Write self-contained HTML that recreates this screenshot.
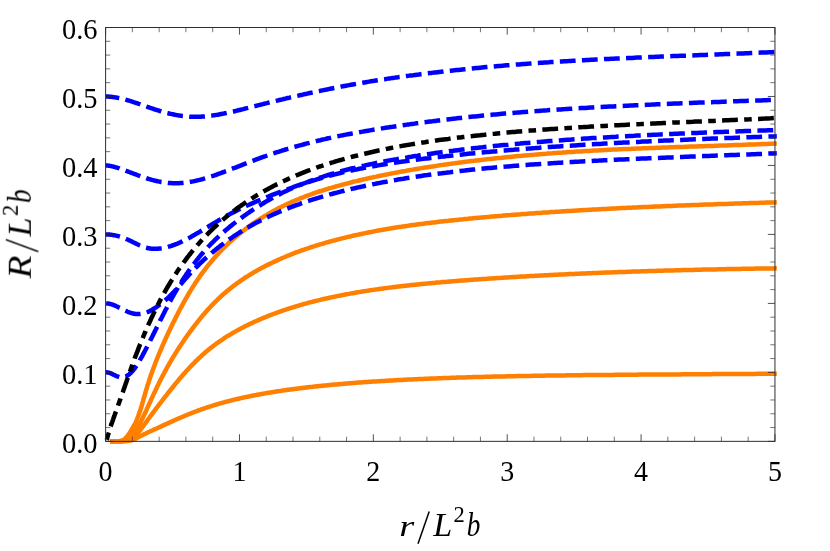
<!DOCTYPE html>
<html><head><meta charset="utf-8"><title>plot</title>
<style>html,body{margin:0;padding:0;background:#fff;}body{width:830px;height:551px;overflow:hidden;font-family:"Liberation Serif",serif;}svg{display:block;}</style></head>
<body>
<svg width="830" height="551" viewBox="0 0 830 551">
<rect x="0" y="0" width="830" height="551" fill="#ffffff"/>
<defs><clipPath id="cp"><rect x="100" y="20" width="676.8" height="430"/></clipPath></defs>
<g fill="none" stroke-width="4.5" stroke-linejoin="round" clip-path="url(#cp)">
<path d="M110.0 441.3 L110.4 441.3 L110.8 441.3 L111.2 441.3 L111.6 441.3 L112.0 441.3 L112.5 441.3 L113.0 441.3 L113.5 441.3 L114.0 441.3 L114.5 441.3 L115.0 441.3 L115.5 441.3 L116.1 441.3 L116.6 441.3 L117.2 441.3 L117.8 441.2 L118.5 441.2 L119.1 441.1 L119.8 441.1 L120.4 441.0 L121.1 440.9 L121.8 440.7 L122.5 440.4 L123.2 440.1 L123.8 439.7 L124.4 439.3 L125.0 438.7 L125.6 438.1 L126.2 437.5 L126.7 436.9 L127.3 436.2 L127.8 435.6 L128.3 434.8 L128.9 434.1 L129.4 433.3 L129.9 432.6 L130.4 431.7 L130.9 430.9 L131.3 430.0 L131.8 429.2 L132.3 428.3 L132.9 427.4 L133.4 426.5 L134.0 425.6 L134.5 424.7 L135.0 423.7 L135.6 422.7 L136.0 421.7 L136.5 420.6 L136.9 419.5 L137.4 418.4 L137.8 417.3 L138.2 416.2 L138.6 415.0 L139.0 413.8 L139.4 412.7 L139.9 411.4 L140.3 410.2 L140.7 409.0 L140.9 408.4 L141.1 407.8 L141.3 407.2 L141.4 406.6 L141.6 406.0 L141.8 405.4 L142.0 404.7 L142.2 404.1 L142.3 403.5 L142.5 402.8 L142.7 402.2 L142.9 401.6 L143.1 400.9 L143.3 400.3 L143.4 399.6 L143.6 399.0 L143.8 398.3 L144.0 397.6 L144.2 397.0 L144.4 396.3 L144.6 395.6 L144.8 395.0 L145.0 394.3 L145.2 393.6 L145.3 392.9 L145.5 392.2 L145.7 391.5 L145.9 390.8 L146.2 390.1 L146.4 389.4 L146.6 388.7 L146.8 388.0 L147.0 387.3 L147.2 386.6 L147.4 385.9 L147.6 385.2 L147.9 384.5 L148.1 383.8 L148.3 383.0 L148.6 382.3 L148.8 381.6 L149.0 380.8 L149.3 380.1 L149.5 379.4 L149.8 378.6 L150.0 377.9 L150.3 377.2 L150.5 376.4 L150.8 375.7 L151.0 374.9 L151.3 374.2 L151.6 373.4 L151.8 372.6 L152.1 371.9 L152.4 371.1 L152.6 370.3 L152.9 369.6 L153.2 368.8 L153.5 368.0 L153.8 367.3 L154.1 366.5 L154.4 365.7 L154.7 364.9 L155.0 364.1 L155.3 363.3 L155.6 362.5 L155.9 361.7 L156.2 360.9 L156.5 360.1 L156.8 359.3 L157.2 358.5 L157.5 357.7 L157.8 356.9 L158.1 356.1 L158.5 355.3 L158.8 354.5 L159.1 353.6 L159.5 352.8 L159.8 352.0 L160.2 351.2 L160.5 350.3 L160.9 349.5 L161.3 348.7 L161.6 347.8 L162.0 347.0 L162.3 346.1 L162.7 345.3 L163.1 344.4 L163.5 343.6 L163.8 342.7 L164.2 341.9 L164.6 341.0 L165.0 340.1 L165.4 339.3 L165.8 338.4 L166.2 337.5 L166.6 336.6 L167.0 335.8 L167.4 334.9 L167.8 334.0 L168.2 333.1 L168.6 332.2 L169.1 331.3 L169.5 330.4 L169.9 329.5 L170.3 328.6 L170.8 327.7 L171.2 326.8 L171.7 325.9 L172.1 325.0 L172.5 324.1 L173.0 323.1 L173.4 322.2 L173.9 321.3 L174.4 320.4 L174.8 319.4 L175.3 318.5 L175.8 317.6 L176.2 316.6 L176.7 315.7 L177.2 314.8 L177.7 313.8 L178.2 312.9 L178.6 311.9 L179.1 311.0 L179.6 310.0 L180.1 309.0 L180.6 308.1 L181.2 307.1 L181.7 306.2 L182.2 305.2 L182.7 304.2 L183.2 303.3 L183.8 302.3 L184.3 301.3 L184.9 300.4 L185.4 299.4 L186.0 298.4 L186.5 297.4 L187.1 296.5 L187.7 295.5 L188.2 294.5 L188.8 293.5 L189.4 292.6 L190.0 291.6 L190.6 290.6 L191.2 289.6 L191.8 288.6 L192.4 287.7 L193.0 286.7 L193.6 285.7 L194.3 284.7 L194.9 283.7 L195.5 282.8 L196.2 281.8 L196.9 280.8 L197.5 279.8 L198.2 278.8 L198.9 277.9 L199.5 276.9 L200.2 275.9 L200.9 274.9 L201.6 273.9 L202.3 273.0 L203.0 272.0 L203.8 271.0 L204.5 270.1 L205.2 269.1 L206.0 268.1 L206.7 267.1 L207.5 266.2 L208.3 265.2 L209.0 264.3 L209.8 263.3 L210.6 262.3 L211.4 261.4 L212.2 260.4 L213.0 259.5 L213.8 258.5 L214.7 257.6 L215.5 256.6 L216.4 255.7 L217.2 254.7 L218.1 253.8 L219.0 252.9 L219.8 251.9 L220.7 251.0 L221.6 250.1 L222.5 249.1 L223.4 248.2 L224.4 247.3 L225.3 246.4 L226.2 245.5 L227.2 244.6 L228.2 243.6 L229.1 242.7 L230.1 241.8 L231.1 240.9 L232.1 240.1 L233.1 239.2 L234.1 238.3 L235.1 237.4 L236.2 236.5 L237.2 235.7 L238.2 234.8 L239.3 233.9 L240.4 233.1 L241.4 232.2 L242.5 231.4 L243.6 230.5 L244.7 229.7 L245.8 228.8 L246.9 228.0 L248.0 227.2 L249.2 226.3 L250.3 225.5 L251.4 224.7 L252.6 223.9 L253.7 223.1 L254.9 222.3 L256.1 221.5 L257.3 220.7 L258.5 220.0 L259.7 219.2 L260.9 218.4 L262.1 217.6 L263.3 216.9 L264.5 216.1 L265.8 215.4 L267.0 214.7 L268.3 213.9 L269.5 213.2 L270.8 212.5 L272.1 211.8 L273.3 211.1 L274.6 210.4 L275.9 209.7 L277.2 209.0 L278.5 208.3 L279.8 207.6 L281.1 207.0 L282.5 206.3 L283.8 205.7 L285.1 205.0 L286.5 204.4 L287.8 203.7 L289.2 203.1 L290.6 202.5 L291.9 201.9 L293.3 201.3 L294.7 200.7 L296.1 200.1 L297.5 199.5 L298.9 199.0 L300.3 198.4 L301.7 197.8 L303.2 197.3 L304.6 196.7 L306.0 196.2 L307.5 195.6 L308.9 195.1 L310.4 194.6 L311.8 194.1 L313.3 193.5 L314.8 193.0 L316.2 192.5 L317.7 192.0 L319.2 191.5 L320.7 191.0 L322.2 190.6 L323.7 190.1 L325.2 189.6 L326.8 189.1 L328.3 188.7 L329.8 188.2 L331.3 187.8 L332.9 187.3 L334.4 186.9 L336.0 186.4 L337.5 186.0 L339.1 185.6 L340.7 185.1 L342.3 184.7 L343.8 184.3 L345.4 183.9 L347.0 183.5 L348.6 183.1 L350.2 182.6 L351.8 182.2 L353.4 181.8 L355.0 181.4 L356.7 181.1 L358.3 180.7 L359.9 180.3 L361.6 179.9 L363.2 179.5 L364.8 179.1 L366.5 178.8 L368.1 178.4 L369.8 178.0 L371.5 177.6 L373.1 177.3 L374.8 176.9 L376.5 176.6 L378.2 176.2 L379.9 175.8 L381.6 175.5 L383.3 175.1 L385.0 174.8 L386.7 174.5 L388.4 174.1 L390.1 173.8 L391.8 173.4 L393.6 173.1 L395.3 172.8 L397.0 172.5 L398.8 172.1 L400.5 171.8 L402.2 171.5 L404.0 171.2 L405.8 170.9 L407.5 170.5 L409.3 170.2 L411.0 169.9 L412.8 169.6 L414.6 169.3 L416.4 169.0 L418.2 168.7 L419.9 168.4 L421.7 168.1 L423.5 167.8 L425.3 167.6 L427.1 167.3 L428.9 167.0 L430.7 166.7 L432.6 166.4 L434.4 166.2 L436.2 165.9 L438.0 165.6 L439.9 165.3 L441.7 165.1 L443.5 164.8 L445.4 164.5 L447.2 164.3 L449.0 164.0 L450.9 163.8 L452.7 163.5 L454.6 163.3 L456.5 163.0 L458.3 162.8 L460.2 162.5 L462.1 162.3 L463.9 162.0 L465.8 161.8 L467.7 161.6 L469.6 161.3 L471.5 161.1 L473.4 160.9 L475.3 160.6 L477.2 160.4 L479.1 160.2 L481.0 160.0 L482.9 159.7 L484.8 159.5 L486.7 159.3 L488.6 159.1 L490.5 158.9 L492.5 158.7 L494.4 158.5 L496.3 158.3 L498.3 158.1 L500.2 157.9 L502.2 157.7 L504.1 157.5 L506.1 157.3 L508.0 157.1 L510.0 156.9 L511.9 156.7 L513.9 156.5 L515.9 156.3 L517.9 156.1 L519.8 155.9 L521.8 155.8 L523.8 155.6 L525.8 155.4 L527.8 155.2 L529.8 155.1 L531.8 154.9 L533.8 154.7 L535.8 154.6 L537.8 154.4 L539.8 154.2 L541.8 154.1 L543.9 153.9 L545.9 153.8 L547.9 153.6 L549.9 153.4 L552.0 153.3 L554.0 153.1 L556.1 153.0 L558.1 152.8 L560.2 152.7 L562.2 152.6 L564.3 152.4 L566.3 152.3 L568.4 152.1 L570.5 152.0 L572.5 151.9 L574.6 151.7 L576.7 151.6 L578.8 151.5 L580.9 151.4 L583.0 151.2 L585.1 151.1 L587.2 151.0 L589.3 150.9 L591.4 150.7 L593.5 150.6 L595.6 150.5 L597.7 150.4 L599.8 150.3 L602.0 150.2 L604.1 150.1 L606.2 150.0 L608.3 149.8 L610.5 149.7 L612.6 149.6 L614.8 149.5 L616.9 149.4 L619.1 149.3 L621.2 149.2 L623.4 149.1 L625.6 149.1 L627.7 149.0 L629.9 148.9 L632.1 148.8 L634.3 148.7 L636.5 148.6 L638.7 148.5 L640.8 148.4 L643.0 148.3 L645.2 148.2 L647.4 148.2 L649.7 148.1 L651.9 148.0 L654.1 147.9 L656.3 147.8 L658.5 147.7 L660.7 147.7 L663.0 147.6 L665.2 147.5 L667.5 147.4 L669.7 147.3 L671.9 147.3 L674.2 147.2 L676.4 147.1 L678.7 147.0 L681.0 146.9 L683.2 146.9 L685.5 146.8 L687.8 146.7 L690.0 146.6 L692.3 146.6 L694.6 146.5 L696.9 146.4 L699.2 146.3 L701.5 146.3 L703.8 146.2 L706.1 146.1 L708.4 146.0 L710.7 145.9 L713.0 145.9 L715.3 145.8 L717.7 145.7 L720.0 145.6 L722.3 145.5 L724.7 145.5 L727.0 145.4 L729.3 145.3 L731.7 145.2 L734.0 145.1 L736.4 145.1 L738.7 145.0 L741.1 144.9 L743.5 144.8 L745.8 144.7 L748.2 144.6 L750.6 144.5 L753.0 144.5 L755.4 144.4 L757.7 144.3 L760.1 144.2 L762.5 144.1 L764.9 144.0 L767.3 143.9 L769.8 143.8 L772.2 143.7 L774.6 143.6 L777.0 143.5" stroke="#ff7f00"/>
<path d="M110.0 441.3 L110.5 441.3 L110.9 441.3 L111.4 441.3 L112.0 441.3 L112.5 441.3 L113.1 441.3 L113.7 441.3 L114.3 441.3 L115.0 441.3 L115.6 441.3 L116.3 441.3 L117.0 441.3 L117.7 441.3 L118.4 441.3 L119.1 441.3 L119.9 441.2 L120.8 441.1 L121.6 441.0 L122.5 440.9 L123.4 440.7 L124.2 440.5 L125.1 440.2 L126.1 439.8 L126.9 439.4 L127.8 439.0 L128.7 438.4 L129.6 437.8 L130.4 437.1 L131.2 436.3 L132.0 435.5 L132.7 434.6 L133.5 433.7 L134.2 432.7 L134.9 431.7 L135.6 430.7 L136.3 429.6 L137.0 428.5 L137.6 427.3 L138.3 426.2 L139.0 425.0 L139.7 423.8 L140.3 422.6 L141.0 421.3 L141.7 420.0 L142.3 418.7 L143.0 417.3 L143.6 415.9 L144.3 414.5 L145.0 413.1 L145.7 411.7 L146.4 410.2 L147.0 408.7 L147.7 407.2 L148.4 405.6 L149.1 404.1 L149.9 402.5 L150.6 400.9 L151.3 399.2 L152.1 397.6 L152.4 397.0 L152.6 396.4 L152.9 395.8 L153.2 395.2 L153.5 394.6 L153.8 394.0 L154.0 393.4 L154.3 392.8 L154.6 392.2 L154.9 391.6 L155.2 391.0 L155.5 390.3 L155.8 389.7 L156.1 389.1 L156.4 388.5 L156.7 387.8 L157.0 387.2 L157.3 386.6 L157.6 385.9 L157.9 385.3 L158.2 384.7 L158.5 384.0 L158.8 383.4 L159.1 382.7 L159.5 382.1 L159.8 381.4 L160.1 380.8 L160.4 380.1 L160.8 379.5 L161.1 378.8 L161.4 378.2 L161.8 377.5 L162.1 376.8 L162.5 376.2 L162.8 375.5 L163.2 374.8 L163.5 374.2 L163.9 373.5 L164.2 372.8 L164.6 372.1 L165.0 371.5 L165.3 370.8 L165.7 370.1 L166.1 369.4 L166.5 368.7 L166.8 368.0 L167.2 367.3 L167.6 366.6 L168.0 366.0 L168.4 365.3 L168.8 364.6 L169.2 363.9 L169.6 363.2 L170.0 362.5 L170.4 361.8 L170.8 361.0 L171.2 360.3 L171.6 359.6 L172.1 358.9 L172.5 358.2 L172.9 357.5 L173.3 356.8 L173.8 356.1 L174.2 355.4 L174.7 354.6 L175.1 353.9 L175.5 353.2 L176.0 352.5 L176.5 351.7 L176.9 351.0 L177.4 350.3 L177.8 349.6 L178.3 348.8 L178.8 348.1 L179.3 347.4 L179.7 346.6 L180.2 345.9 L180.7 345.2 L181.2 344.4 L181.7 343.7 L182.2 343.0 L182.7 342.2 L183.2 341.5 L183.7 340.7 L184.2 340.0 L184.7 339.2 L185.2 338.5 L185.8 337.7 L186.3 337.0 L186.8 336.2 L187.3 335.5 L187.9 334.7 L188.4 334.0 L189.0 333.2 L189.5 332.5 L190.1 331.7 L190.6 331.0 L191.2 330.2 L191.8 329.5 L192.3 328.7 L192.9 327.9 L193.5 327.2 L194.0 326.4 L194.6 325.7 L195.2 324.9 L195.8 324.1 L196.4 323.4 L197.0 322.6 L197.6 321.8 L198.2 321.1 L198.8 320.3 L199.5 319.5 L200.1 318.8 L200.7 318.0 L201.3 317.2 L202.0 316.5 L202.6 315.7 L203.2 314.9 L203.9 314.2 L204.6 313.4 L205.2 312.6 L205.9 311.9 L206.5 311.1 L207.2 310.4 L207.9 309.6 L208.6 308.8 L209.3 308.1 L210.0 307.3 L210.7 306.6 L211.4 305.8 L212.1 305.1 L212.8 304.3 L213.5 303.6 L214.3 302.8 L215.0 302.1 L215.8 301.4 L216.5 300.6 L217.3 299.9 L218.0 299.2 L218.8 298.4 L219.6 297.7 L220.3 297.0 L221.1 296.3 L221.9 295.5 L222.7 294.8 L223.5 294.1 L224.3 293.4 L225.2 292.7 L226.0 292.0 L226.8 291.3 L227.7 290.6 L228.5 289.9 L229.4 289.2 L230.2 288.5 L231.1 287.8 L232.0 287.2 L232.8 286.5 L233.7 285.8 L234.6 285.1 L235.5 284.5 L236.4 283.8 L237.3 283.1 L238.2 282.5 L239.2 281.8 L240.1 281.2 L241.0 280.5 L242.0 279.9 L242.9 279.2 L243.9 278.6 L244.8 277.9 L245.8 277.3 L246.8 276.7 L247.8 276.1 L248.8 275.4 L249.8 274.8 L250.8 274.2 L251.8 273.6 L252.8 273.0 L253.8 272.4 L254.8 271.8 L255.9 271.2 L256.9 270.6 L258.0 270.0 L259.0 269.4 L260.1 268.9 L261.1 268.3 L262.2 267.7 L263.3 267.1 L264.4 266.6 L265.4 266.0 L266.5 265.4 L267.6 264.9 L268.7 264.3 L269.9 263.8 L271.0 263.2 L272.1 262.7 L273.2 262.2 L274.3 261.6 L275.5 261.1 L276.6 260.6 L277.8 260.1 L278.9 259.5 L280.1 259.0 L281.2 258.5 L282.4 258.0 L283.6 257.5 L284.8 257.0 L285.9 256.5 L287.1 256.0 L288.3 255.5 L289.5 255.1 L290.7 254.6 L291.9 254.1 L293.1 253.6 L294.3 253.2 L295.5 252.7 L296.8 252.2 L298.0 251.8 L299.2 251.3 L300.4 250.9 L301.7 250.4 L302.9 250.0 L304.2 249.6 L305.4 249.1 L306.7 248.7 L307.9 248.3 L309.2 247.9 L310.4 247.4 L311.7 247.0 L313.0 246.6 L314.3 246.2 L315.5 245.8 L316.8 245.4 L318.1 245.0 L319.4 244.6 L320.7 244.2 L322.0 243.9 L323.3 243.5 L324.6 243.1 L325.9 242.7 L327.2 242.3 L328.5 242.0 L329.8 241.6 L331.2 241.2 L332.5 240.9 L333.8 240.5 L335.2 240.2 L336.5 239.8 L337.8 239.5 L339.2 239.1 L340.5 238.8 L341.9 238.4 L343.2 238.1 L344.6 237.8 L346.0 237.4 L347.3 237.1 L348.7 236.8 L350.1 236.5 L351.5 236.1 L352.8 235.8 L354.2 235.5 L355.6 235.2 L357.0 234.9 L358.4 234.6 L359.8 234.3 L361.2 234.0 L362.6 233.7 L364.0 233.4 L365.4 233.1 L366.8 232.8 L368.3 232.5 L369.7 232.2 L371.1 231.9 L372.6 231.7 L374.0 231.4 L375.4 231.1 L376.9 230.8 L378.3 230.6 L379.8 230.3 L381.2 230.0 L382.7 229.8 L384.1 229.5 L385.6 229.3 L387.1 229.0 L388.5 228.8 L390.0 228.5 L391.5 228.3 L393.0 228.0 L394.5 227.8 L395.9 227.6 L397.4 227.3 L398.9 227.1 L400.4 226.9 L401.9 226.6 L403.4 226.4 L404.9 226.2 L406.5 226.0 L408.0 225.8 L409.5 225.5 L411.0 225.3 L412.5 225.1 L414.1 224.9 L415.6 224.7 L417.1 224.5 L418.7 224.3 L420.2 224.1 L421.8 223.9 L423.3 223.7 L424.9 223.5 L426.4 223.3 L428.0 223.1 L429.6 222.9 L431.1 222.7 L432.7 222.5 L434.3 222.4 L435.9 222.2 L437.4 222.0 L439.0 221.8 L440.6 221.6 L442.2 221.5 L443.8 221.3 L445.4 221.1 L447.0 220.9 L448.6 220.8 L450.2 220.6 L451.8 220.4 L453.4 220.2 L455.1 220.1 L456.7 219.9 L458.3 219.7 L459.9 219.6 L461.6 219.4 L463.2 219.3 L464.8 219.1 L466.5 218.9 L468.1 218.8 L469.8 218.6 L471.4 218.5 L473.1 218.3 L474.7 218.1 L476.4 218.0 L478.1 217.8 L479.7 217.7 L481.4 217.5 L483.1 217.4 L484.7 217.2 L486.4 217.1 L488.1 216.9 L489.8 216.8 L491.5 216.6 L493.2 216.5 L494.9 216.3 L496.6 216.2 L498.3 216.1 L500.0 215.9 L501.7 215.8 L503.4 215.6 L505.1 215.5 L506.8 215.3 L508.6 215.2 L510.3 215.1 L512.0 214.9 L513.7 214.8 L515.5 214.7 L517.2 214.5 L519.0 214.4 L520.7 214.3 L522.5 214.1 L524.2 214.0 L526.0 213.9 L527.7 213.7 L529.5 213.6 L531.2 213.5 L533.0 213.4 L534.8 213.2 L536.5 213.1 L538.3 213.0 L540.1 212.9 L541.9 212.7 L543.7 212.6 L545.5 212.5 L547.2 212.4 L549.0 212.3 L550.8 212.1 L552.6 212.0 L554.4 211.9 L556.3 211.8 L558.1 211.7 L559.9 211.6 L561.7 211.4 L563.5 211.3 L565.3 211.2 L567.2 211.1 L569.0 211.0 L570.8 210.9 L572.6 210.8 L574.5 210.7 L576.3 210.5 L578.2 210.4 L580.0 210.3 L581.9 210.2 L583.7 210.1 L585.6 210.0 L587.4 209.9 L589.3 209.8 L591.2 209.7 L593.0 209.6 L594.9 209.5 L596.8 209.4 L598.6 209.3 L600.5 209.2 L602.4 209.1 L604.3 209.0 L606.2 208.9 L608.1 208.8 L610.0 208.7 L611.9 208.6 L613.8 208.5 L615.7 208.4 L617.6 208.3 L619.5 208.2 L621.4 208.1 L623.3 208.0 L625.2 207.9 L627.1 207.8 L629.1 207.7 L631.0 207.7 L632.9 207.6 L634.9 207.5 L636.8 207.4 L638.7 207.3 L640.7 207.2 L642.6 207.1 L644.6 207.0 L646.5 206.9 L648.5 206.9 L650.4 206.8 L652.4 206.7 L654.3 206.6 L656.3 206.5 L658.3 206.4 L660.2 206.4 L662.2 206.3 L664.2 206.2 L666.2 206.1 L668.1 206.0 L670.1 205.9 L672.1 205.9 L674.1 205.8 L676.1 205.7 L678.1 205.6 L680.1 205.5 L682.1 205.5 L684.1 205.4 L686.1 205.3 L688.1 205.2 L690.1 205.2 L692.1 205.1 L694.1 205.0 L696.1 204.9 L698.2 204.9 L700.2 204.8 L702.2 204.7 L704.3 204.6 L706.3 204.6 L708.3 204.5 L710.4 204.4 L712.4 204.4 L714.4 204.3 L716.5 204.2 L718.5 204.1 L720.6 204.1 L722.6 204.0 L724.7 203.9 L726.8 203.9 L728.8 203.8 L730.9 203.7 L733.0 203.7 L735.0 203.6 L737.1 203.5 L739.2 203.5 L741.3 203.4 L743.3 203.3 L745.4 203.3 L747.5 203.2 L749.6 203.1 L751.7 203.1 L753.8 203.0 L755.9 202.9 L758.0 202.9 L760.1 202.8 L762.2 202.7 L764.3 202.7 L766.4 202.6 L768.5 202.5 L770.6 202.5 L772.8 202.4 L774.9 202.4 L777.0 202.3" stroke="#ff7f00"/>
<path d="M110.0 441.3 L110.5 441.3 L111.0 441.3 L111.5 441.3 L112.1 441.3 L112.7 441.3 L113.3 441.3 L114.0 441.3 L114.7 441.3 L115.4 441.3 L116.1 441.3 L116.8 441.3 L117.6 441.3 L118.3 441.3 L119.1 441.3 L119.9 441.3 L120.7 441.3 L121.6 441.3 L122.5 441.2 L123.5 441.1 L124.5 441.1 L125.5 441.0 L126.5 440.8 L127.6 440.6 L128.6 440.3 L129.7 439.9 L130.7 439.5 L131.7 438.9 L132.7 438.2 L133.7 437.5 L134.6 436.7 L135.5 435.8 L136.4 434.8 L137.3 433.8 L138.2 432.8 L139.0 431.7 L139.9 430.6 L140.7 429.4 L141.6 428.3 L142.4 427.1 L143.3 425.9 L144.2 424.6 L145.2 423.4 L146.1 422.1 L147.1 420.8 L148.0 419.5 L149.0 418.2 L150.0 416.8 L151.0 415.4 L152.1 414.0 L153.1 412.6 L154.2 411.1 L155.3 409.7 L156.4 408.2 L157.6 406.7 L158.7 405.2 L159.9 403.6 L161.1 402.1 L162.3 400.5 L163.5 398.9 L163.9 398.4 L164.3 397.9 L164.7 397.4 L165.1 396.9 L165.5 396.3 L165.9 395.8 L166.3 395.3 L166.7 394.8 L167.1 394.3 L167.5 393.7 L167.9 393.2 L168.3 392.7 L168.8 392.2 L169.2 391.6 L169.6 391.1 L170.0 390.6 L170.5 390.0 L170.9 389.5 L171.3 388.9 L171.8 388.4 L172.2 387.8 L172.6 387.3 L173.1 386.8 L173.5 386.2 L174.0 385.7 L174.4 385.1 L174.9 384.5 L175.3 384.0 L175.8 383.4 L176.2 382.9 L176.7 382.3 L177.2 381.8 L177.6 381.2 L178.1 380.6 L178.6 380.1 L179.0 379.5 L179.5 378.9 L180.0 378.4 L180.5 377.8 L181.0 377.2 L181.5 376.7 L181.9 376.1 L182.4 375.5 L182.9 374.9 L183.4 374.4 L183.9 373.8 L184.4 373.2 L185.0 372.7 L185.5 372.1 L186.0 371.5 L186.5 370.9 L187.0 370.4 L187.6 369.8 L188.1 369.2 L188.6 368.6 L189.2 368.0 L189.7 367.5 L190.2 366.9 L190.8 366.3 L191.3 365.7 L191.9 365.2 L192.5 364.6 L193.0 364.0 L193.6 363.4 L194.2 362.9 L194.7 362.3 L195.3 361.7 L195.9 361.1 L196.5 360.6 L197.1 360.0 L197.7 359.4 L198.2 358.9 L198.9 358.3 L199.5 357.7 L200.1 357.2 L200.7 356.6 L201.3 356.0 L201.9 355.5 L202.5 354.9 L203.2 354.3 L203.8 353.8 L204.5 353.2 L205.1 352.6 L205.7 352.1 L206.4 351.5 L207.1 351.0 L207.7 350.4 L208.4 349.9 L209.1 349.3 L209.7 348.8 L210.4 348.2 L211.1 347.7 L211.8 347.1 L212.5 346.6 L213.2 346.1 L213.9 345.5 L214.6 345.0 L215.3 344.5 L216.0 343.9 L216.7 343.4 L217.5 342.9 L218.2 342.4 L219.0 341.8 L219.7 341.3 L220.4 340.8 L221.2 340.3 L222.0 339.8 L222.7 339.3 L223.5 338.8 L224.3 338.2 L225.0 337.7 L225.8 337.2 L226.6 336.7 L227.4 336.2 L228.2 335.7 L229.0 335.3 L229.8 334.8 L230.6 334.3 L231.4 333.8 L232.3 333.3 L233.1 332.8 L233.9 332.3 L234.7 331.9 L235.6 331.4 L236.4 330.9 L237.3 330.4 L238.1 330.0 L239.0 329.5 L239.8 329.1 L240.7 328.6 L241.6 328.1 L242.4 327.7 L243.3 327.2 L244.2 326.8 L245.1 326.3 L246.0 325.9 L246.9 325.4 L247.8 325.0 L248.7 324.5 L249.6 324.1 L250.5 323.7 L251.4 323.2 L252.4 322.8 L253.3 322.4 L254.2 321.9 L255.1 321.5 L256.1 321.1 L257.0 320.7 L258.0 320.3 L258.9 319.8 L259.9 319.4 L260.8 319.0 L261.8 318.6 L262.8 318.2 L263.7 317.8 L264.7 317.4 L265.7 317.0 L266.7 316.6 L267.6 316.2 L268.6 315.8 L269.6 315.4 L270.6 315.0 L271.6 314.7 L272.6 314.3 L273.6 313.9 L274.7 313.5 L275.7 313.1 L276.7 312.8 L277.7 312.4 L278.7 312.0 L279.8 311.7 L280.8 311.3 L281.8 310.9 L282.9 310.6 L283.9 310.2 L285.0 309.9 L286.0 309.5 L287.1 309.2 L288.1 308.8 L289.2 308.5 L290.3 308.1 L291.3 307.8 L292.4 307.5 L293.5 307.1 L294.6 306.8 L295.7 306.5 L296.7 306.1 L297.8 305.8 L298.9 305.5 L300.0 305.2 L301.1 304.8 L302.2 304.5 L303.3 304.2 L304.4 303.9 L305.6 303.6 L306.7 303.3 L307.8 303.0 L308.9 302.7 L310.0 302.4 L311.2 302.1 L312.3 301.8 L313.4 301.5 L314.6 301.2 L315.7 300.9 L316.9 300.7 L318.0 300.4 L319.2 300.1 L320.3 299.8 L321.5 299.5 L322.6 299.3 L323.8 299.0 L325.0 298.7 L326.1 298.5 L327.3 298.2 L328.5 298.0 L329.7 297.7 L330.8 297.4 L332.0 297.2 L333.2 296.9 L334.4 296.7 L335.6 296.4 L336.8 296.2 L338.0 295.9 L339.2 295.7 L340.4 295.5 L341.6 295.2 L342.8 295.0 L344.0 294.8 L345.3 294.5 L346.5 294.3 L347.7 294.1 L348.9 293.9 L350.2 293.6 L351.4 293.4 L352.6 293.2 L353.9 293.0 L355.1 292.8 L356.4 292.5 L357.6 292.3 L358.8 292.1 L360.1 291.9 L361.4 291.7 L362.6 291.5 L363.9 291.3 L365.2 291.1 L366.4 290.9 L367.7 290.7 L369.0 290.5 L370.2 290.3 L371.5 290.1 L372.8 289.9 L374.1 289.7 L375.4 289.6 L376.7 289.4 L378.0 289.2 L379.3 289.0 L380.6 288.8 L381.9 288.7 L383.2 288.5 L384.5 288.3 L385.8 288.1 L387.1 288.0 L388.5 287.8 L389.8 287.6 L391.1 287.4 L392.4 287.3 L393.8 287.1 L395.1 287.0 L396.4 286.8 L397.8 286.6 L399.1 286.5 L400.5 286.3 L401.8 286.2 L403.2 286.0 L404.5 285.8 L405.9 285.7 L407.2 285.5 L408.6 285.4 L410.0 285.2 L411.3 285.1 L412.7 285.0 L414.1 284.8 L415.5 284.7 L416.8 284.5 L418.2 284.4 L419.6 284.2 L421.0 284.1 L422.4 284.0 L423.8 283.8 L425.2 283.7 L426.6 283.6 L428.0 283.4 L429.4 283.3 L430.8 283.2 L432.2 283.0 L433.6 282.9 L435.1 282.8 L436.5 282.6 L437.9 282.5 L439.3 282.4 L440.8 282.3 L442.2 282.1 L443.6 282.0 L445.1 281.9 L446.5 281.8 L448.0 281.7 L449.4 281.5 L450.9 281.4 L452.3 281.3 L453.8 281.2 L455.2 281.1 L456.7 280.9 L458.2 280.8 L459.6 280.7 L461.1 280.6 L462.6 280.5 L464.0 280.4 L465.5 280.3 L467.0 280.2 L468.5 280.1 L470.0 279.9 L471.5 279.8 L473.0 279.7 L474.4 279.6 L475.9 279.5 L477.4 279.4 L479.0 279.3 L480.5 279.2 L482.0 279.1 L483.5 279.0 L485.0 278.9 L486.5 278.8 L488.0 278.7 L489.6 278.6 L491.1 278.5 L492.6 278.4 L494.1 278.3 L495.7 278.2 L497.2 278.1 L498.8 278.0 L500.3 277.9 L501.8 277.8 L503.4 277.7 L504.9 277.6 L506.5 277.5 L508.0 277.4 L509.6 277.3 L511.2 277.2 L512.7 277.1 L514.3 277.0 L515.9 276.9 L517.4 276.8 L519.0 276.7 L520.6 276.6 L522.2 276.6 L523.8 276.5 L525.3 276.4 L526.9 276.3 L528.5 276.2 L530.1 276.1 L531.7 276.0 L533.3 275.9 L534.9 275.8 L536.5 275.8 L538.1 275.7 L539.7 275.6 L541.4 275.5 L543.0 275.4 L544.6 275.3 L546.2 275.2 L547.8 275.2 L549.5 275.1 L551.1 275.0 L552.7 274.9 L554.4 274.8 L556.0 274.8 L557.6 274.7 L559.3 274.6 L560.9 274.5 L562.6 274.4 L564.2 274.4 L565.9 274.3 L567.5 274.2 L569.2 274.1 L570.9 274.1 L572.5 274.0 L574.2 273.9 L575.9 273.8 L577.5 273.8 L579.2 273.7 L580.9 273.6 L582.6 273.5 L584.2 273.5 L585.9 273.4 L587.6 273.3 L589.3 273.2 L591.0 273.2 L592.7 273.1 L594.4 273.0 L596.1 273.0 L597.8 272.9 L599.5 272.8 L601.2 272.8 L602.9 272.7 L604.6 272.6 L606.4 272.6 L608.1 272.5 L609.8 272.4 L611.5 272.4 L613.3 272.3 L615.0 272.2 L616.7 272.2 L618.4 272.1 L620.2 272.0 L621.9 272.0 L623.7 271.9 L625.4 271.9 L627.2 271.8 L628.9 271.7 L630.7 271.7 L632.4 271.6 L634.2 271.6 L635.9 271.5 L637.7 271.4 L639.5 271.4 L641.2 271.3 L643.0 271.3 L644.8 271.2 L646.5 271.2 L648.3 271.1 L650.1 271.1 L651.9 271.0 L653.7 270.9 L655.5 270.9 L657.3 270.8 L659.0 270.8 L660.8 270.7 L662.6 270.7 L664.4 270.6 L666.2 270.6 L668.1 270.5 L669.9 270.5 L671.7 270.4 L673.5 270.4 L675.3 270.3 L677.1 270.3 L678.9 270.2 L680.8 270.2 L682.6 270.1 L684.4 270.1 L686.2 270.0 L688.1 270.0 L689.9 270.0 L691.8 269.9 L693.6 269.9 L695.4 269.8 L697.3 269.8 L699.1 269.7 L701.0 269.7 L702.8 269.6 L704.7 269.6 L706.6 269.6 L708.4 269.5 L710.3 269.5 L712.1 269.4 L714.0 269.4 L715.9 269.4 L717.8 269.3 L719.6 269.3 L721.5 269.2 L723.4 269.2 L725.3 269.2 L727.1 269.1 L729.0 269.1 L730.9 269.1 L732.8 269.0 L734.7 269.0 L736.6 269.0 L738.5 268.9 L740.4 268.9 L742.3 268.8 L744.2 268.8 L746.1 268.8 L748.0 268.7 L750.0 268.7 L751.9 268.7 L753.8 268.7 L755.7 268.6 L757.6 268.6 L759.6 268.6 L761.5 268.5 L763.4 268.5 L765.4 268.5 L767.3 268.4 L769.2 268.4 L771.2 268.4 L773.1 268.4 L775.1 268.3 L777.0 268.3" stroke="#ff7f00"/>
<path d="M110.0 441.3 L110.5 441.3 L111.0 441.3 L111.5 441.3 L112.1 441.3 L112.6 441.3 L113.3 441.3 L113.9 441.3 L114.5 441.3 L115.2 441.3 L115.9 441.3 L116.6 441.3 L117.4 441.3 L118.1 441.3 L118.9 441.3 L119.7 441.3 L120.4 441.3 L121.3 441.3 L122.2 441.3 L123.1 441.2 L124.1 441.2 L125.1 441.1 L126.1 441.1 L127.1 441.0 L128.1 440.9 L129.2 440.7 L130.3 440.5 L131.4 440.3 L132.5 440.0 L133.6 439.6 L134.7 439.1 L135.8 438.6 L136.9 438.0 L138.0 437.4 L139.2 436.8 L140.4 436.1 L141.6 435.5 L142.8 434.9 L144.1 434.3 L145.4 433.7 L146.7 433.0 L148.0 432.4 L149.4 431.8 L150.8 431.1 L152.2 430.5 L153.6 429.8 L155.1 429.1 L156.6 428.5 L158.1 427.8 L159.6 427.1 L161.2 426.4 L162.7 425.6 L164.3 424.9 L166.0 424.2 L167.6 423.4 L169.3 422.6 L171.0 421.9 L172.7 421.1 L174.4 420.3 L176.2 419.5 L176.8 419.3 L177.3 419.0 L177.9 418.8 L178.5 418.5 L179.0 418.3 L179.6 418.0 L180.2 417.8 L180.7 417.6 L181.3 417.3 L181.9 417.1 L182.5 416.8 L183.1 416.6 L183.6 416.3 L184.2 416.1 L184.8 415.8 L185.4 415.6 L186.0 415.3 L186.6 415.1 L187.2 414.9 L187.8 414.6 L188.4 414.4 L189.0 414.1 L189.6 413.9 L190.3 413.6 L190.9 413.4 L191.5 413.1 L192.1 412.9 L192.7 412.6 L193.4 412.4 L194.0 412.2 L194.6 411.9 L195.3 411.7 L195.9 411.4 L196.6 411.2 L197.2 411.0 L197.8 410.7 L198.5 410.5 L199.1 410.2 L199.8 410.0 L200.5 409.8 L201.1 409.5 L201.8 409.3 L202.4 409.0 L203.1 408.8 L203.8 408.6 L204.5 408.3 L205.1 408.1 L205.8 407.9 L206.5 407.6 L207.2 407.4 L207.9 407.2 L208.6 407.0 L209.3 406.7 L210.0 406.5 L210.7 406.3 L211.4 406.1 L212.1 405.8 L212.8 405.6 L213.5 405.4 L214.2 405.2 L214.9 404.9 L215.6 404.7 L216.4 404.5 L217.1 404.3 L217.8 404.1 L218.5 403.9 L219.3 403.6 L220.0 403.4 L220.7 403.2 L221.5 403.0 L222.2 402.8 L223.0 402.6 L223.7 402.4 L224.5 402.2 L225.2 402.0 L226.0 401.8 L226.8 401.6 L227.5 401.4 L228.3 401.2 L229.1 401.0 L229.8 400.8 L230.6 400.6 L231.4 400.4 L232.2 400.2 L233.0 400.0 L233.8 399.8 L234.5 399.6 L235.3 399.4 L236.1 399.2 L236.9 399.1 L237.7 398.9 L238.5 398.7 L239.3 398.5 L240.2 398.3 L241.0 398.1 L241.8 397.9 L242.6 397.8 L243.4 397.6 L244.2 397.4 L245.1 397.2 L245.9 397.1 L246.7 396.9 L247.6 396.7 L248.4 396.5 L249.2 396.4 L250.1 396.2 L250.9 396.0 L251.8 395.8 L252.6 395.7 L253.5 395.5 L254.3 395.3 L255.2 395.2 L256.1 395.0 L256.9 394.8 L257.8 394.7 L258.7 394.5 L259.5 394.4 L260.4 394.2 L261.3 394.0 L262.2 393.9 L263.1 393.7 L263.9 393.6 L264.8 393.4 L265.7 393.3 L266.6 393.1 L267.5 393.0 L268.4 392.8 L269.3 392.7 L270.2 392.5 L271.1 392.4 L272.1 392.2 L273.0 392.1 L273.9 391.9 L274.8 391.8 L275.7 391.6 L276.6 391.5 L277.6 391.3 L278.5 391.2 L279.4 391.1 L280.4 390.9 L281.3 390.8 L282.2 390.6 L283.2 390.5 L284.1 390.4 L285.1 390.2 L286.0 390.1 L287.0 390.0 L287.9 389.8 L288.9 389.7 L289.9 389.6 L290.8 389.4 L291.8 389.3 L292.8 389.2 L293.7 389.0 L294.7 388.9 L295.7 388.8 L296.7 388.7 L297.6 388.5 L298.6 388.4 L299.6 388.3 L300.6 388.2 L301.6 388.0 L302.6 387.9 L303.6 387.8 L304.6 387.7 L305.6 387.6 L306.6 387.5 L307.6 387.3 L308.6 387.2 L309.6 387.1 L310.7 387.0 L311.7 386.9 L312.7 386.8 L313.7 386.6 L314.7 386.5 L315.8 386.4 L316.8 386.3 L317.8 386.2 L318.9 386.1 L319.9 386.0 L320.9 385.9 L322.0 385.8 L323.0 385.7 L324.1 385.6 L325.1 385.5 L326.2 385.4 L327.2 385.3 L328.3 385.2 L329.4 385.0 L330.4 384.9 L331.5 384.8 L332.6 384.7 L333.6 384.6 L334.7 384.6 L335.8 384.5 L336.9 384.4 L338.0 384.3 L339.0 384.2 L340.1 384.1 L341.2 384.0 L342.3 383.9 L343.4 383.8 L344.5 383.7 L345.6 383.6 L346.7 383.5 L347.8 383.4 L348.9 383.3 L350.0 383.2 L351.1 383.2 L352.2 383.1 L353.4 383.0 L354.5 382.9 L355.6 382.8 L356.7 382.7 L357.8 382.6 L359.0 382.6 L360.1 382.5 L361.2 382.4 L362.4 382.3 L363.5 382.2 L364.7 382.1 L365.8 382.1 L366.9 382.0 L368.1 381.9 L369.2 381.8 L370.4 381.8 L371.6 381.7 L372.7 381.6 L373.9 381.5 L375.0 381.4 L376.2 381.4 L377.4 381.3 L378.5 381.2 L379.7 381.2 L380.9 381.1 L382.1 381.0 L383.3 380.9 L384.4 380.9 L385.6 380.8 L386.8 380.7 L388.0 380.7 L389.2 380.6 L390.4 380.5 L391.6 380.4 L392.8 380.4 L394.0 380.3 L395.2 380.2 L396.4 380.2 L397.6 380.1 L398.8 380.1 L400.0 380.0 L401.3 379.9 L402.5 379.9 L403.7 379.8 L404.9 379.7 L406.2 379.7 L407.4 379.6 L408.6 379.6 L409.9 379.5 L411.1 379.4 L412.3 379.4 L413.6 379.3 L414.8 379.3 L416.1 379.2 L417.3 379.2 L418.6 379.1 L419.8 379.0 L421.1 379.0 L422.3 378.9 L423.6 378.9 L424.9 378.8 L426.1 378.8 L427.4 378.7 L428.7 378.7 L430.0 378.6 L431.2 378.6 L432.5 378.5 L433.8 378.5 L435.1 378.4 L436.4 378.4 L437.7 378.3 L439.0 378.3 L440.2 378.2 L441.5 378.2 L442.8 378.1 L444.1 378.1 L445.4 378.0 L446.8 378.0 L448.1 377.9 L449.4 377.9 L450.7 377.8 L452.0 377.8 L453.3 377.7 L454.6 377.7 L456.0 377.7 L457.3 377.6 L458.6 377.6 L460.0 377.5 L461.3 377.5 L462.6 377.5 L464.0 377.4 L465.3 377.4 L466.7 377.3 L468.0 377.3 L469.3 377.3 L470.7 377.2 L472.1 377.2 L473.4 377.1 L474.8 377.1 L476.1 377.1 L477.5 377.0 L478.9 377.0 L480.2 377.0 L481.6 376.9 L483.0 376.9 L484.3 376.8 L485.7 376.8 L487.1 376.8 L488.5 376.7 L489.9 376.7 L491.3 376.7 L492.7 376.6 L494.0 376.6 L495.4 376.6 L496.8 376.5 L498.2 376.5 L499.6 376.5 L501.0 376.4 L502.5 376.4 L503.9 376.4 L505.3 376.4 L506.7 376.3 L508.1 376.3 L509.5 376.3 L510.9 376.2 L512.4 376.2 L513.8 376.2 L515.2 376.2 L516.7 376.1 L518.1 376.1 L519.5 376.1 L521.0 376.0 L522.4 376.0 L523.9 376.0 L525.3 376.0 L526.8 375.9 L528.2 375.9 L529.7 375.9 L531.1 375.9 L532.6 375.8 L534.0 375.8 L535.5 375.8 L537.0 375.8 L538.4 375.7 L539.9 375.7 L541.4 375.7 L542.9 375.7 L544.3 375.7 L545.8 375.6 L547.3 375.6 L548.8 375.6 L550.3 375.6 L551.8 375.5 L553.3 375.5 L554.7 375.5 L556.2 375.5 L557.7 375.5 L559.3 375.4 L560.8 375.4 L562.3 375.4 L563.8 375.4 L565.3 375.4 L566.8 375.3 L568.3 375.3 L569.8 375.3 L571.4 375.3 L572.9 375.3 L574.4 375.3 L575.9 375.2 L577.5 375.2 L579.0 375.2 L580.5 375.2 L582.1 375.2 L583.6 375.1 L585.2 375.1 L586.7 375.1 L588.3 375.1 L589.8 375.1 L591.4 375.1 L592.9 375.0 L594.5 375.0 L596.0 375.0 L597.6 375.0 L599.2 375.0 L600.7 375.0 L602.3 375.0 L603.9 374.9 L605.5 374.9 L607.0 374.9 L608.6 374.9 L610.2 374.9 L611.8 374.9 L613.4 374.9 L615.0 374.8 L616.6 374.8 L618.2 374.8 L619.7 374.8 L621.3 374.8 L622.9 374.8 L624.6 374.8 L626.2 374.7 L627.8 374.7 L629.4 374.7 L631.0 374.7 L632.6 374.7 L634.2 374.7 L635.9 374.7 L637.5 374.7 L639.1 374.6 L640.7 374.6 L642.4 374.6 L644.0 374.6 L645.6 374.6 L647.3 374.6 L648.9 374.6 L650.6 374.6 L652.2 374.5 L653.8 374.5 L655.5 374.5 L657.2 374.5 L658.8 374.5 L660.5 374.5 L662.1 374.5 L663.8 374.5 L665.5 374.5 L667.1 374.4 L668.8 374.4 L670.5 374.4 L672.1 374.4 L673.8 374.4 L675.5 374.4 L677.2 374.4 L678.9 374.4 L680.5 374.4 L682.2 374.3 L683.9 374.3 L685.6 374.3 L687.3 374.3 L689.0 374.3 L690.7 374.3 L692.4 374.3 L694.1 374.3 L695.8 374.3 L697.5 374.2 L699.3 374.2 L701.0 374.2 L702.7 374.2 L704.4 374.2 L706.1 374.2 L707.9 374.2 L709.6 374.2 L711.3 374.2 L713.0 374.1 L714.8 374.1 L716.5 374.1 L718.3 374.1 L720.0 374.1 L721.7 374.1 L723.5 374.1 L725.2 374.1 L727.0 374.1 L728.7 374.0 L730.5 374.0 L732.3 374.0 L734.0 374.0 L735.8 374.0 L737.5 374.0 L739.3 374.0 L741.1 374.0 L742.9 373.9 L744.6 373.9 L746.4 373.9 L748.2 373.9 L750.0 373.9 L751.8 373.9 L753.5 373.9 L755.3 373.9 L757.1 373.8 L758.9 373.8 L760.7 373.8 L762.5 373.8 L764.3 373.8 L766.1 373.8 L767.9 373.8 L769.7 373.8 L771.6 373.7 L773.4 373.7 L775.2 373.7 L777.0 373.7" stroke="#ff7f00"/>
<path d="M106.0 372.3 L106.5 372.3 L106.9 372.4 L107.4 372.4 L107.9 372.5 L108.4 372.6 L108.9 372.7 L109.4 372.9 L109.9 373.0 L110.4 373.2 L110.9 373.4 L111.4 373.7 L112.0 373.9 L112.5 374.2 L113.0 374.4 L113.6 374.7 L114.1 375.0 L114.7 375.3 L115.3 375.5 L115.8 375.8 L116.4 376.1 L117.0 376.3 L117.5 376.5 L118.1 376.7 L118.7 376.9 L119.3 377.1 L119.9 377.2 L120.4 377.3 L121.0 377.4 L121.6 377.4 L122.2 377.4 L122.8 377.4 L123.3 377.3 L123.9 377.1 L124.5 377.0 L125.0 376.8 L125.6 376.6 L126.2 376.3 L126.7 376.0 L127.3 375.7 L127.8 375.3 L128.3 375.0 L128.9 374.6 L129.4 374.2 L129.9 373.7 L130.4 373.2 L130.9 372.8 L131.4 372.2 L131.9 371.7 L132.4 371.2 L132.9 370.6 L133.4 370.0 L133.9 369.4 L134.4 368.8 L134.8 368.1 L135.3 367.5 L135.8 366.8 L136.2 366.1 L136.7 365.4 L137.1 364.7 L137.6 364.0 L138.0 363.3 L138.5 362.6 L138.9 361.8 L139.4 361.1 L139.8 360.3 L140.2 359.5 L140.7 358.8 L141.1 358.0 L141.5 357.2 L142.0 356.5 L142.4 355.7 L142.8 354.9 L143.2 354.1 L143.7 353.3 L144.1 352.5 L144.5 351.7 L144.9 350.9 L145.4 350.1 L145.8 349.3 L146.2 348.5 L146.6 347.7 L147.1 346.8 L147.5 346.0 L147.9 345.2 L148.3 344.4 L148.8 343.5 L149.2 342.7 L149.6 341.8 L150.1 341.0 L150.5 340.1 L150.9 339.3 L151.3 338.4 L151.8 337.5 L152.2 336.7 L152.6 335.8 L153.1 334.9 L153.5 334.0 L154.0 333.1 L154.4 332.2 L154.9 331.3 L155.3 330.4 L155.8 329.5 L156.2 328.6 L156.7 327.7 L157.1 326.8 L157.6 325.8 L158.1 324.9 L158.5 324.0 L159.0 323.0 L159.5 322.1 L159.9 321.1 L160.4 320.1 L160.9 319.2 L161.4 318.2 L161.9 317.2 L162.4 316.2 L162.9 315.2 L163.4 314.3 L163.9 313.3 L164.4 312.2 L164.9 311.2 L165.4 310.2 L166.0 309.2 L166.5 308.2 L167.0 307.1 L167.6 306.1 L168.1 305.1 L168.7 304.0 L169.2 303.0 L169.8 301.9 L170.4 300.9 L170.9 299.8 L171.5 298.8 L172.1 297.7 L172.7 296.6 L173.3 295.6 L173.9 294.5 L174.5 293.4 L175.1 292.3 L175.8 291.3 L176.4 290.2 L177.0 289.1 L177.7 288.0 L178.3 286.9 L179.0 285.8 L179.6 284.7 L180.3 283.7 L181.0 282.6 L181.7 281.5 L182.4 280.4 L183.1 279.3 L183.8 278.2 L184.5 277.1 L185.3 276.0 L186.0 274.9 L186.7 273.8 L187.5 272.7 L188.3 271.6 L189.0 270.5 L189.8 269.4 L190.6 268.3 L191.4 267.2 L192.2 266.1 L193.0 265.0 L193.9 263.9 L194.7 262.8 L195.6 261.7 L196.4 260.6 L197.3 259.5 L198.2 258.4 L199.0 257.3 L199.9 256.2 L200.9 255.1 L201.8 254.1 L202.7 253.0 L203.6 251.9 L204.6 250.8 L205.6 249.7 L206.5 248.7 L207.5 247.6 L208.5 246.5 L209.5 245.5 L210.5 244.4 L211.6 243.4 L212.6 242.3 L213.7 241.3 L214.7 240.2 L215.8 239.2 L216.9 238.1 L218.0 237.1 L219.1 236.1 L220.2 235.0 L221.4 234.0 L222.5 233.0 L223.7 232.0 L224.8 231.0 L226.0 229.9 L227.2 228.9 L228.4 227.9 L229.6 226.9 L230.9 225.9 L232.1 224.9 L233.3 224.0 L234.6 223.0 L235.9 222.0 L237.1 221.0 L238.4 220.0 L239.7 219.1 L241.0 218.1 L242.4 217.1 L243.7 216.2 L245.0 215.2 L246.4 214.3 L247.7 213.3 L249.1 212.4 L250.5 211.4 L251.9 210.5 L253.3 209.5 L254.7 208.6 L256.1 207.7 L257.6 206.8 L259.0 205.9 L260.5 205.0 L261.9 204.1 L263.4 203.2 L264.9 202.3 L266.4 201.4 L267.9 200.5 L269.4 199.7 L270.9 198.8 L272.5 198.0 L274.0 197.1 L275.5 196.3 L277.1 195.5 L278.7 194.7 L280.3 193.9 L281.8 193.1 L283.4 192.3 L285.0 191.5 L286.7 190.8 L288.3 190.0 L289.9 189.3 L291.6 188.5 L293.2 187.8 L294.9 187.1 L296.5 186.4 L298.2 185.7 L299.9 185.0 L301.6 184.3 L303.3 183.6 L305.0 183.0 L306.8 182.3 L308.5 181.7 L310.2 181.0 L312.0 180.4 L313.7 179.8 L315.5 179.1 L317.3 178.5 L319.1 177.9 L320.8 177.3 L322.6 176.8 L324.5 176.2 L326.3 175.6 L328.1 175.0 L329.9 174.5 L331.8 173.9 L333.6 173.4 L335.5 172.9 L337.3 172.3 L339.2 171.8 L341.1 171.3 L343.0 170.8 L344.9 170.3 L346.8 169.8 L348.7 169.3 L350.6 168.8 L352.5 168.3 L354.4 167.9 L356.4 167.4 L358.3 166.9 L360.3 166.5 L362.2 166.0 L364.2 165.6 L366.2 165.1 L368.2 164.7 L370.2 164.3 L372.2 163.9 L374.2 163.4 L376.2 163.0 L378.2 162.6 L380.2 162.2 L382.3 161.8 L384.3 161.4 L386.3 161.0 L388.4 160.6 L390.4 160.3 L392.5 159.9 L394.6 159.5 L396.7 159.2 L398.7 158.8 L400.8 158.4 L402.9 158.1 L405.0 157.7 L407.2 157.4 L409.3 157.0 L411.4 156.7 L413.5 156.3 L415.7 156.0 L417.8 155.7 L419.9 155.3 L422.1 155.0 L424.3 154.7 L426.4 154.4 L428.6 154.1 L430.8 153.7 L433.0 153.4 L435.1 153.1 L437.3 152.8 L439.5 152.5 L441.7 152.2 L444.0 151.9 L446.2 151.6 L448.4 151.3 L450.6 151.0 L452.9 150.8 L455.1 150.5 L457.4 150.2 L459.6 149.9 L461.9 149.6 L464.1 149.4 L466.4 149.1 L468.7 148.8 L471.0 148.6 L473.3 148.3 L475.6 148.0 L477.9 147.8 L480.2 147.5 L482.5 147.3 L484.8 147.0 L487.1 146.8 L489.5 146.5 L491.8 146.3 L494.1 146.0 L496.5 145.8 L498.8 145.6 L501.2 145.3 L503.6 145.1 L505.9 144.9 L508.3 144.7 L510.7 144.4 L513.1 144.2 L515.5 144.0 L517.9 143.8 L520.3 143.6 L522.7 143.3 L525.1 143.1 L527.5 142.9 L530.0 142.7 L532.4 142.5 L534.8 142.3 L537.3 142.1 L539.7 141.9 L542.2 141.7 L544.6 141.5 L547.1 141.3 L549.6 141.1 L552.1 140.9 L554.5 140.7 L557.0 140.6 L559.5 140.4 L562.0 140.2 L564.5 140.0 L567.1 139.8 L569.6 139.7 L572.1 139.5 L574.6 139.3 L577.2 139.1 L579.7 139.0 L582.3 138.8 L584.8 138.6 L587.4 138.5 L589.9 138.3 L592.5 138.1 L595.1 138.0 L597.7 137.8 L600.2 137.7 L602.8 137.5 L605.4 137.4 L608.0 137.2 L610.6 137.1 L613.2 136.9 L615.9 136.8 L618.5 136.6 L621.1 136.5 L623.8 136.3 L626.4 136.2 L629.0 136.0 L631.7 135.9 L634.4 135.8 L637.0 135.6 L639.7 135.5 L642.4 135.4 L645.0 135.2 L647.7 135.1 L650.4 135.0 L653.1 134.8 L655.8 134.7 L658.5 134.6 L661.2 134.4 L663.9 134.3 L666.7 134.2 L669.4 134.1 L672.1 134.0 L674.9 133.8 L677.6 133.7 L680.4 133.6 L683.1 133.5 L685.9 133.4 L688.6 133.2 L691.4 133.1 L694.2 133.0 L697.0 132.9 L699.8 132.8 L702.5 132.7 L705.3 132.6 L708.1 132.5 L711.0 132.3 L713.8 132.2 L716.6 132.1 L719.4 132.0 L722.2 131.9 L725.1 131.8 L727.9 131.7 L730.8 131.6 L733.6 131.5 L736.5 131.4 L739.3 131.3 L742.2 131.2 L745.1 131.1 L747.9 131.0 L750.8 130.9 L753.7 130.8 L756.6 130.7 L759.5 130.6 L762.4 130.5 L765.3 130.4 L768.2 130.3 L771.1 130.2 L774.1 130.1 L777.0 130.0" stroke="#0000ff" stroke-dasharray="15.8 6.3" stroke-dashoffset="1.6"/>
<path d="M106.1 303.3 L106.7 303.4 L107.3 303.4 L107.9 303.5 L108.5 303.6 L109.2 303.7 L109.8 303.8 L110.4 304.0 L111.0 304.1 L111.7 304.3 L112.3 304.5 L113.0 304.8 L113.6 305.0 L114.3 305.3 L115.0 305.6 L115.6 305.9 L116.3 306.2 L117.0 306.5 L117.7 306.9 L118.4 307.2 L119.1 307.6 L119.8 307.9 L120.5 308.3 L121.2 308.7 L121.9 309.0 L122.7 309.4 L123.4 309.7 L124.1 310.1 L124.9 310.5 L125.6 310.8 L126.3 311.1 L127.1 311.5 L127.8 311.8 L128.6 312.1 L129.4 312.4 L130.1 312.6 L130.9 312.9 L131.7 313.1 L132.4 313.3 L133.2 313.5 L134.0 313.7 L134.8 313.8 L135.6 313.9 L136.4 314.0 L137.1 314.1 L137.9 314.1 L138.7 314.1 L139.5 314.0 L140.3 314.0 L141.1 313.9 L142.0 313.7 L142.8 313.6 L143.6 313.4 L144.4 313.1 L145.2 312.9 L146.0 312.6 L146.8 312.3 L147.6 312.0 L148.5 311.6 L149.3 311.3 L150.1 310.8 L150.9 310.4 L151.8 310.0 L152.6 309.5 L153.4 309.0 L154.2 308.5 L155.0 308.0 L155.9 307.4 L156.7 306.9 L157.5 306.3 L158.3 305.7 L159.1 305.1 L160.0 304.5 L160.8 303.9 L161.6 303.3 L162.4 302.6 L163.2 302.0 L164.0 301.3 L164.8 300.7 L165.6 300.0 L166.4 299.3 L167.1 298.6 L167.9 297.9 L168.7 297.2 L169.5 296.4 L170.2 295.7 L171.0 294.9 L171.7 294.2 L172.5 293.4 L173.2 292.6 L174.0 291.8 L174.7 291.0 L175.5 290.2 L176.2 289.4 L177.0 288.5 L177.7 287.7 L178.4 286.9 L179.2 286.0 L179.9 285.1 L180.7 284.3 L181.4 283.4 L182.2 282.6 L182.9 281.7 L183.7 280.8 L184.5 279.9 L185.2 279.0 L186.0 278.2 L186.8 277.3 L187.6 276.4 L188.4 275.5 L189.2 274.6 L190.0 273.7 L190.8 272.8 L191.6 272.0 L192.5 271.1 L193.3 270.2 L194.2 269.3 L195.0 268.4 L195.9 267.5 L196.8 266.7 L197.7 265.8 L198.6 264.9 L199.5 264.0 L200.4 263.1 L201.3 262.3 L202.2 261.4 L203.2 260.5 L204.1 259.6 L205.1 258.8 L206.0 257.9 L207.0 257.0 L208.0 256.2 L209.0 255.3 L210.0 254.4 L211.0 253.6 L212.0 252.7 L213.0 251.9 L214.0 251.0 L215.0 250.2 L216.1 249.3 L217.1 248.5 L218.2 247.6 L219.3 246.8 L220.3 246.0 L221.4 245.1 L222.5 244.3 L223.6 243.5 L224.7 242.6 L225.8 241.8 L227.0 241.0 L228.1 240.2 L229.2 239.4 L230.4 238.6 L231.6 237.8 L232.7 237.0 L233.9 236.2 L235.1 235.4 L236.3 234.6 L237.5 233.8 L238.7 233.0 L239.9 232.2 L241.2 231.5 L242.4 230.7 L243.6 229.9 L244.9 229.2 L246.2 228.4 L247.4 227.7 L248.7 227.0 L250.0 226.2 L251.3 225.5 L252.6 224.8 L253.9 224.0 L255.2 223.3 L256.6 222.6 L257.9 221.9 L259.3 221.2 L260.6 220.5 L262.0 219.8 L263.4 219.1 L264.8 218.5 L266.1 217.8 L267.6 217.1 L269.0 216.5 L270.4 215.8 L271.8 215.2 L273.2 214.5 L274.7 213.9 L276.1 213.2 L277.6 212.6 L279.1 212.0 L280.5 211.3 L282.0 210.7 L283.5 210.1 L285.0 209.5 L286.5 208.9 L288.0 208.3 L289.6 207.7 L291.1 207.1 L292.6 206.5 L294.2 206.0 L295.7 205.4 L297.3 204.8 L298.9 204.3 L300.4 203.7 L302.0 203.1 L303.6 202.6 L305.2 202.1 L306.8 201.5 L308.4 201.0 L310.0 200.4 L311.7 199.9 L313.3 199.4 L315.0 198.9 L316.6 198.4 L318.3 197.9 L319.9 197.4 L321.6 196.9 L323.3 196.4 L325.0 195.9 L326.7 195.4 L328.4 194.9 L330.1 194.4 L331.8 194.0 L333.5 193.5 L335.2 193.0 L337.0 192.6 L338.7 192.1 L340.4 191.7 L342.2 191.2 L344.0 190.8 L345.7 190.3 L347.5 189.9 L349.3 189.5 L351.1 189.0 L352.9 188.6 L354.7 188.2 L356.5 187.8 L358.3 187.4 L360.1 187.0 L361.9 186.6 L363.8 186.2 L365.6 185.8 L367.4 185.4 L369.3 185.0 L371.1 184.6 L373.0 184.2 L374.9 183.9 L376.7 183.5 L378.6 183.1 L380.5 182.8 L382.4 182.4 L384.3 182.0 L386.2 181.7 L388.1 181.3 L390.0 181.0 L391.9 180.6 L393.9 180.3 L395.8 180.0 L397.7 179.6 L399.7 179.3 L401.6 179.0 L403.6 178.7 L405.5 178.3 L407.5 178.0 L409.5 177.7 L411.4 177.4 L413.4 177.1 L415.4 176.8 L417.4 176.5 L419.4 176.2 L421.4 175.9 L423.4 175.6 L425.4 175.3 L427.4 175.1 L429.5 174.8 L431.5 174.5 L433.5 174.2 L435.6 174.0 L437.6 173.7 L439.7 173.4 L441.7 173.2 L443.8 172.9 L445.9 172.7 L447.9 172.4 L450.0 172.2 L452.1 171.9 L454.2 171.7 L456.3 171.4 L458.4 171.2 L460.5 170.9 L462.6 170.7 L464.7 170.5 L466.8 170.2 L469.0 170.0 L471.1 169.8 L473.2 169.6 L475.4 169.4 L477.5 169.1 L479.7 168.9 L481.8 168.7 L484.0 168.5 L486.2 168.3 L488.4 168.1 L490.5 167.9 L492.7 167.7 L494.9 167.5 L497.1 167.3 L499.3 167.1 L501.5 166.9 L503.7 166.7 L506.0 166.6 L508.2 166.4 L510.4 166.2 L512.7 166.0 L514.9 165.8 L517.1 165.7 L519.4 165.5 L521.7 165.3 L523.9 165.1 L526.2 165.0 L528.5 164.8 L530.7 164.6 L533.0 164.5 L535.3 164.3 L537.6 164.2 L539.9 164.0 L542.2 163.8 L544.5 163.7 L546.8 163.5 L549.2 163.4 L551.5 163.2 L553.8 163.1 L556.2 162.9 L558.5 162.8 L560.8 162.7 L563.2 162.5 L565.6 162.4 L567.9 162.2 L570.3 162.1 L572.7 162.0 L575.1 161.8 L577.4 161.7 L579.8 161.6 L582.2 161.4 L584.6 161.3 L587.0 161.2 L589.4 161.1 L591.9 160.9 L594.3 160.8 L596.7 160.7 L599.1 160.6 L601.6 160.4 L604.0 160.3 L606.5 160.2 L608.9 160.1 L611.4 160.0 L613.9 159.8 L616.3 159.7 L618.8 159.6 L621.3 159.5 L623.8 159.4 L626.3 159.3 L628.8 159.2 L631.3 159.1 L633.8 158.9 L636.3 158.8 L638.8 158.7 L641.3 158.6 L643.9 158.5 L646.4 158.4 L648.9 158.3 L651.5 158.2 L654.0 158.1 L656.6 158.0 L659.1 157.9 L661.7 157.8 L664.3 157.7 L666.9 157.6 L669.4 157.5 L672.0 157.4 L674.6 157.3 L677.2 157.2 L679.8 157.0 L682.4 156.9 L685.0 156.8 L687.7 156.7 L690.3 156.6 L692.9 156.5 L695.5 156.4 L698.2 156.3 L700.8 156.2 L703.5 156.1 L706.1 156.0 L708.8 155.9 L711.5 155.8 L714.1 155.7 L716.8 155.6 L719.5 155.5 L722.2 155.4 L724.9 155.3 L727.6 155.2 L730.3 155.1 L733.0 155.0 L735.7 154.9 L738.4 154.8 L741.1 154.7 L743.9 154.6 L746.6 154.5 L749.3 154.4 L752.1 154.3 L754.8 154.2 L757.6 154.1 L760.3 154.0 L763.1 153.9 L765.9 153.7 L768.6 153.6 L771.4 153.5 L774.2 153.4 L777.0 153.3" stroke="#0000ff" stroke-dasharray="15.8 6.3" stroke-dashoffset="1.3"/>
<path d="M105.7 234.4 L106.2 234.4 L106.7 234.4 L107.2 234.4 L107.7 234.5 L108.3 234.5 L108.8 234.5 L109.3 234.6 L109.9 234.6 L110.4 234.7 L110.9 234.7 L111.5 234.8 L112.0 234.9 L112.6 235.0 L113.2 235.1 L113.7 235.2 L114.3 235.3 L114.9 235.4 L115.5 235.5 L116.1 235.6 L116.7 235.8 L117.3 235.9 L117.9 236.1 L118.5 236.2 L119.1 236.4 L119.7 236.6 L120.3 236.8 L120.9 237.0 L121.6 237.2 L122.2 237.4 L122.8 237.6 L123.5 237.9 L124.1 238.1 L124.8 238.4 L125.4 238.6 L126.1 238.9 L126.8 239.2 L127.5 239.5 L128.1 239.8 L128.8 240.1 L129.5 240.4 L130.2 240.8 L130.9 241.1 L131.6 241.4 L132.3 241.8 L133.0 242.2 L133.7 242.5 L134.4 242.9 L135.2 243.2 L135.9 243.6 L136.6 243.9 L137.4 244.3 L138.1 244.6 L138.9 245.0 L139.6 245.3 L140.4 245.6 L141.1 245.9 L141.9 246.2 L142.7 246.5 L143.4 246.8 L144.2 247.1 L145.0 247.3 L145.8 247.6 L146.6 247.8 L147.4 248.0 L148.2 248.2 L149.0 248.3 L149.8 248.5 L150.6 248.6 L151.5 248.7 L152.3 248.7 L153.1 248.8 L154.0 248.8 L154.8 248.8 L155.6 248.8 L156.5 248.8 L157.3 248.8 L158.2 248.7 L159.1 248.6 L159.9 248.5 L160.8 248.4 L161.7 248.3 L162.5 248.2 L163.4 248.0 L164.3 247.8 L165.2 247.6 L166.1 247.4 L167.0 247.2 L167.9 246.9 L168.7 246.7 L169.6 246.4 L170.6 246.1 L171.5 245.8 L172.4 245.5 L173.3 245.2 L174.2 244.8 L175.1 244.5 L176.0 244.1 L176.9 243.8 L177.9 243.4 L178.8 243.0 L179.7 242.6 L180.6 242.1 L181.6 241.7 L182.5 241.3 L183.4 240.8 L184.4 240.3 L185.3 239.9 L186.3 239.4 L187.2 238.9 L188.1 238.4 L189.1 237.9 L190.0 237.4 L191.0 236.9 L191.9 236.3 L192.9 235.8 L193.8 235.2 L194.8 234.7 L195.7 234.1 L196.7 233.6 L197.7 233.0 L198.6 232.4 L199.6 231.9 L200.6 231.3 L201.6 230.7 L202.6 230.1 L203.5 229.5 L204.5 228.9 L205.5 228.3 L206.5 227.7 L207.5 227.1 L208.5 226.5 L209.5 225.9 L210.5 225.3 L211.6 224.6 L212.6 224.0 L213.6 223.4 L214.7 222.8 L215.7 222.2 L216.7 221.5 L217.8 220.9 L218.8 220.3 L219.9 219.7 L221.0 219.1 L222.0 218.5 L223.1 217.8 L224.2 217.2 L225.3 216.6 L226.4 216.0 L227.5 215.4 L228.6 214.8 L229.7 214.2 L230.9 213.6 L232.0 213.0 L233.1 212.4 L234.3 211.9 L235.4 211.3 L236.6 210.7 L237.8 210.1 L238.9 209.5 L240.1 209.0 L241.3 208.4 L242.5 207.8 L243.7 207.2 L244.9 206.7 L246.1 206.1 L247.3 205.5 L248.5 205.0 L249.7 204.4 L251.0 203.9 L252.2 203.3 L253.5 202.8 L254.7 202.2 L256.0 201.7 L257.2 201.1 L258.5 200.6 L259.8 200.0 L261.1 199.5 L262.4 198.9 L263.7 198.4 L265.0 197.9 L266.3 197.3 L267.6 196.8 L268.9 196.3 L270.2 195.7 L271.6 195.2 L272.9 194.7 L274.3 194.2 L275.6 193.6 L277.0 193.1 L278.3 192.6 L279.7 192.1 L281.1 191.6 L282.5 191.0 L283.9 190.5 L285.3 190.0 L286.7 189.5 L288.1 189.0 L289.5 188.5 L290.9 188.0 L292.3 187.5 L293.8 186.9 L295.2 186.4 L296.6 185.9 L298.1 185.4 L299.5 184.9 L301.0 184.5 L302.5 184.0 L304.0 183.5 L305.4 183.0 L306.9 182.5 L308.4 182.0 L309.9 181.5 L311.4 181.1 L312.9 180.6 L314.4 180.1 L316.0 179.7 L317.5 179.2 L319.0 178.7 L320.6 178.3 L322.1 177.8 L323.7 177.4 L325.2 177.0 L326.8 176.5 L328.4 176.1 L329.9 175.7 L331.5 175.2 L333.1 174.8 L334.7 174.4 L336.3 174.0 L337.9 173.6 L339.5 173.2 L341.1 172.8 L342.8 172.4 L344.4 172.1 L346.0 171.7 L347.7 171.3 L349.3 170.9 L350.9 170.6 L352.6 170.2 L354.3 169.9 L355.9 169.5 L357.6 169.2 L359.3 168.8 L361.0 168.5 L362.7 168.2 L364.4 167.9 L366.1 167.5 L367.8 167.2 L369.5 166.9 L371.2 166.6 L372.9 166.3 L374.7 166.0 L376.4 165.7 L378.1 165.4 L379.9 165.1 L381.6 164.8 L383.4 164.5 L385.2 164.2 L386.9 163.9 L388.7 163.7 L390.5 163.4 L392.3 163.1 L394.1 162.8 L395.9 162.6 L397.7 162.3 L399.5 162.1 L401.3 161.8 L403.1 161.5 L404.9 161.3 L406.8 161.0 L408.6 160.8 L410.5 160.5 L412.3 160.3 L414.2 160.0 L416.0 159.8 L417.9 159.6 L419.7 159.3 L421.6 159.1 L423.5 158.8 L425.4 158.6 L427.3 158.4 L429.2 158.2 L431.1 157.9 L433.0 157.7 L434.9 157.5 L436.8 157.2 L438.7 157.0 L440.7 156.8 L442.6 156.6 L444.5 156.4 L446.5 156.1 L448.4 155.9 L450.4 155.7 L452.4 155.5 L454.3 155.3 L456.3 155.1 L458.3 154.9 L460.2 154.7 L462.2 154.5 L464.2 154.3 L466.2 154.1 L468.2 153.8 L470.2 153.6 L472.2 153.5 L474.3 153.3 L476.3 153.1 L478.3 152.9 L480.4 152.7 L482.4 152.5 L484.4 152.3 L486.5 152.1 L488.5 151.9 L490.6 151.7 L492.7 151.5 L494.7 151.4 L496.8 151.2 L498.9 151.0 L501.0 150.8 L503.1 150.6 L505.2 150.5 L507.3 150.3 L509.4 150.1 L511.5 149.9 L513.6 149.8 L515.7 149.6 L517.9 149.4 L520.0 149.2 L522.1 149.1 L524.3 148.9 L526.4 148.7 L528.6 148.6 L530.8 148.4 L532.9 148.2 L535.1 148.1 L537.3 147.9 L539.4 147.8 L541.6 147.6 L543.8 147.5 L546.0 147.3 L548.2 147.1 L550.4 147.0 L552.6 146.8 L554.8 146.7 L557.1 146.5 L559.3 146.4 L561.5 146.2 L563.8 146.1 L566.0 145.9 L568.2 145.8 L570.5 145.7 L572.8 145.5 L575.0 145.4 L577.3 145.2 L579.6 145.1 L581.8 145.0 L584.1 144.8 L586.4 144.7 L588.7 144.5 L591.0 144.4 L593.3 144.3 L595.6 144.1 L597.9 144.0 L600.2 143.9 L602.5 143.7 L604.9 143.6 L607.2 143.5 L609.5 143.4 L611.9 143.2 L614.2 143.1 L616.6 143.0 L618.9 142.8 L621.3 142.7 L623.6 142.6 L626.0 142.5 L628.4 142.4 L630.8 142.2 L633.2 142.1 L635.5 142.0 L637.9 141.9 L640.3 141.8 L642.7 141.6 L645.2 141.5 L647.6 141.4 L650.0 141.3 L652.4 141.2 L654.8 141.1 L657.3 141.0 L659.7 140.8 L662.2 140.7 L664.6 140.6 L667.1 140.5 L669.5 140.4 L672.0 140.3 L674.4 140.2 L676.9 140.1 L679.4 140.0 L681.9 139.9 L684.4 139.8 L686.8 139.7 L689.3 139.5 L691.8 139.4 L694.3 139.3 L696.9 139.2 L699.4 139.1 L701.9 139.0 L704.4 138.9 L706.9 138.8 L709.5 138.7 L712.0 138.6 L714.6 138.5 L717.1 138.4 L719.7 138.3 L722.2 138.2 L724.8 138.1 L727.3 138.1 L729.9 138.0 L732.5 137.9 L735.1 137.8 L737.7 137.7 L740.3 137.6 L742.8 137.5 L745.4 137.4 L748.1 137.3 L750.7 137.2 L753.3 137.1 L755.9 137.0 L758.5 136.9 L761.1 136.8 L763.8 136.7 L766.4 136.7 L769.0 136.6 L771.7 136.5 L774.3 136.4 L777.0 136.3" stroke="#0000ff" stroke-dasharray="15.8 6.3" stroke-dashoffset="1.3"/>
<path d="M105.7 165.4 L106.3 165.4 L106.9 165.5 L107.5 165.5 L108.1 165.6 L108.7 165.7 L109.4 165.8 L110.0 165.9 L110.6 166.0 L111.2 166.1 L111.9 166.3 L112.5 166.4 L113.2 166.6 L113.8 166.7 L114.5 166.9 L115.1 167.1 L115.8 167.3 L116.5 167.5 L117.1 167.7 L117.8 167.9 L118.5 168.1 L119.2 168.3 L119.9 168.6 L120.6 168.8 L121.3 169.0 L122.0 169.3 L122.7 169.5 L123.4 169.8 L124.1 170.1 L124.9 170.3 L125.6 170.6 L126.3 170.9 L127.1 171.2 L127.8 171.5 L128.6 171.7 L129.3 172.0 L130.1 172.3 L130.9 172.6 L131.6 172.9 L132.4 173.2 L133.2 173.5 L134.0 173.8 L134.8 174.1 L135.6 174.4 L136.4 174.7 L137.2 175.0 L138.0 175.3 L138.9 175.6 L139.7 175.9 L140.5 176.2 L141.4 176.5 L142.2 176.8 L143.1 177.1 L143.9 177.4 L144.8 177.7 L145.7 178.0 L146.5 178.3 L147.4 178.5 L148.3 178.8 L149.2 179.1 L150.1 179.3 L151.0 179.6 L151.9 179.9 L152.8 180.1 L153.7 180.3 L154.6 180.6 L155.6 180.8 L156.5 181.0 L157.4 181.2 L158.4 181.4 L159.3 181.6 L160.3 181.8 L161.2 182.0 L162.2 182.1 L163.1 182.3 L164.1 182.4 L165.1 182.6 L166.1 182.7 L167.0 182.8 L168.0 182.9 L169.0 183.0 L170.0 183.1 L171.0 183.1 L172.0 183.2 L173.0 183.2 L174.1 183.3 L175.1 183.3 L176.1 183.3 L177.1 183.2 L178.2 183.2 L179.2 183.2 L180.2 183.1 L181.3 183.0 L182.3 182.9 L183.4 182.8 L184.4 182.7 L185.5 182.6 L186.5 182.5 L187.6 182.3 L188.7 182.2 L189.8 182.0 L190.8 181.8 L191.9 181.6 L193.0 181.4 L194.1 181.2 L195.2 180.9 L196.3 180.7 L197.4 180.4 L198.5 180.1 L199.6 179.9 L200.7 179.6 L201.8 179.3 L203.0 179.0 L204.1 178.6 L205.2 178.3 L206.3 178.0 L207.5 177.6 L208.6 177.3 L209.7 176.9 L210.9 176.5 L212.0 176.2 L213.2 175.8 L214.4 175.4 L215.5 175.0 L216.7 174.6 L217.9 174.1 L219.0 173.7 L220.2 173.3 L221.4 172.9 L222.6 172.4 L223.8 172.0 L225.0 171.5 L226.2 171.1 L227.4 170.6 L228.6 170.1 L229.8 169.7 L231.0 169.2 L232.3 168.7 L233.5 168.2 L234.7 167.8 L236.0 167.3 L237.2 166.8 L238.5 166.3 L239.7 165.8 L241.0 165.3 L242.2 164.8 L243.5 164.3 L244.8 163.8 L246.1 163.3 L247.4 162.8 L248.6 162.3 L249.9 161.8 L251.2 161.3 L252.5 160.9 L253.9 160.4 L255.2 159.9 L256.5 159.4 L257.8 158.9 L259.2 158.4 L260.5 157.9 L261.8 157.4 L263.2 156.9 L264.6 156.5 L265.9 156.0 L267.3 155.5 L268.7 155.0 L270.0 154.6 L271.4 154.1 L272.8 153.6 L274.2 153.2 L275.6 152.7 L277.0 152.2 L278.4 151.8 L279.8 151.3 L281.3 150.9 L282.7 150.4 L284.1 150.0 L285.6 149.5 L287.0 149.1 L288.5 148.7 L289.9 148.2 L291.4 147.8 L292.9 147.4 L294.3 146.9 L295.8 146.5 L297.3 146.1 L298.8 145.7 L300.3 145.3 L301.8 144.9 L303.3 144.5 L304.8 144.0 L306.3 143.6 L307.8 143.2 L309.4 142.9 L310.9 142.5 L312.4 142.1 L314.0 141.7 L315.5 141.3 L317.1 140.9 L318.6 140.5 L320.2 140.2 L321.8 139.8 L323.4 139.4 L324.9 139.1 L326.5 138.7 L328.1 138.3 L329.7 138.0 L331.3 137.6 L332.9 137.3 L334.6 136.9 L336.2 136.6 L337.8 136.3 L339.4 135.9 L341.1 135.6 L342.7 135.3 L344.4 134.9 L346.0 134.6 L347.7 134.3 L349.4 134.0 L351.0 133.7 L352.7 133.4 L354.4 133.1 L356.1 132.8 L357.8 132.5 L359.5 132.2 L361.2 131.9 L362.9 131.6 L364.6 131.3 L366.3 131.0 L368.0 130.7 L369.8 130.4 L371.5 130.1 L373.2 129.8 L375.0 129.5 L376.7 129.2 L378.5 129.0 L380.3 128.7 L382.0 128.4 L383.8 128.1 L385.6 127.8 L387.4 127.6 L389.2 127.3 L390.9 127.0 L392.7 126.8 L394.6 126.5 L396.4 126.2 L398.2 125.9 L400.0 125.7 L401.8 125.4 L403.7 125.1 L405.5 124.9 L407.3 124.6 L409.2 124.4 L411.0 124.1 L412.9 123.9 L414.8 123.6 L416.6 123.3 L418.5 123.1 L420.4 122.8 L422.3 122.6 L424.2 122.3 L426.1 122.1 L428.0 121.8 L429.9 121.6 L431.8 121.4 L433.7 121.1 L435.6 120.9 L437.6 120.6 L439.5 120.4 L441.4 120.2 L443.4 119.9 L445.3 119.7 L447.3 119.5 L449.2 119.2 L451.2 119.0 L453.2 118.8 L455.2 118.6 L457.1 118.3 L459.1 118.1 L461.1 117.9 L463.1 117.7 L465.1 117.5 L467.1 117.2 L469.1 117.0 L471.2 116.8 L473.2 116.6 L475.2 116.4 L477.3 116.2 L479.3 116.0 L481.3 115.8 L483.4 115.6 L485.4 115.4 L487.5 115.2 L489.6 115.0 L491.6 114.8 L493.7 114.6 L495.8 114.4 L497.9 114.2 L500.0 114.0 L502.1 113.8 L504.2 113.6 L506.3 113.5 L508.4 113.3 L510.5 113.1 L512.6 112.9 L514.8 112.7 L516.9 112.6 L519.0 112.4 L521.2 112.2 L523.3 112.0 L525.5 111.9 L527.6 111.7 L529.8 111.5 L532.0 111.4 L534.2 111.2 L536.3 111.1 L538.5 110.9 L540.7 110.7 L542.9 110.6 L545.1 110.4 L547.3 110.3 L549.5 110.1 L551.7 110.0 L554.0 109.8 L556.2 109.7 L558.4 109.5 L560.7 109.4 L562.9 109.2 L565.1 109.1 L567.4 108.9 L569.7 108.8 L571.9 108.7 L574.2 108.5 L576.5 108.4 L578.7 108.3 L581.0 108.1 L583.3 108.0 L585.6 107.9 L587.9 107.7 L590.2 107.6 L592.5 107.5 L594.8 107.3 L597.1 107.2 L599.5 107.1 L601.8 107.0 L604.1 106.8 L606.5 106.7 L608.8 106.6 L611.2 106.5 L613.5 106.4 L615.9 106.2 L618.2 106.1 L620.6 106.0 L623.0 105.9 L625.3 105.8 L627.7 105.7 L630.1 105.5 L632.5 105.4 L634.9 105.3 L637.3 105.2 L639.7 105.1 L642.1 105.0 L644.6 104.9 L647.0 104.8 L649.4 104.7 L651.8 104.6 L654.3 104.4 L656.7 104.3 L659.2 104.2 L661.6 104.1 L664.1 104.0 L666.5 103.9 L669.0 103.8 L671.5 103.7 L674.0 103.6 L676.4 103.5 L678.9 103.4 L681.4 103.3 L683.9 103.2 L686.4 103.1 L688.9 103.0 L691.4 102.9 L693.9 102.8 L696.5 102.7 L699.0 102.6 L701.5 102.5 L704.1 102.4 L706.6 102.3 L709.1 102.2 L711.7 102.2 L714.2 102.1 L716.8 102.0 L719.4 101.9 L721.9 101.8 L724.5 101.7 L727.1 101.6 L729.7 101.5 L732.3 101.4 L734.9 101.3 L737.5 101.2 L740.1 101.1 L742.7 101.0 L745.3 100.9 L747.9 100.8 L750.5 100.7 L753.1 100.6 L755.8 100.6 L758.4 100.5 L761.1 100.4 L763.7 100.3 L766.4 100.2 L769.0 100.1 L771.7 100.0 L774.3 99.9 L777.0 99.8" stroke="#0000ff" stroke-dasharray="15.8 6.3" stroke-dashoffset="1.5"/>
<path d="M105.8 96.5 L106.4 96.5 L106.9 96.5 L107.5 96.6 L108.1 96.6 L108.6 96.6 L109.2 96.7 L109.8 96.7 L110.4 96.8 L110.9 96.8 L111.5 96.9 L112.1 97.0 L112.7 97.1 L113.3 97.1 L113.9 97.2 L114.6 97.3 L115.2 97.4 L115.8 97.5 L116.4 97.6 L117.1 97.7 L117.7 97.9 L118.3 98.0 L119.0 98.1 L119.6 98.2 L120.3 98.4 L120.9 98.5 L121.6 98.7 L122.3 98.8 L122.9 99.0 L123.6 99.2 L124.3 99.3 L125.0 99.5 L125.7 99.7 L126.4 99.9 L127.1 100.1 L127.8 100.3 L128.5 100.5 L129.2 100.7 L129.9 100.9 L130.7 101.1 L131.4 101.4 L132.1 101.6 L132.8 101.8 L133.6 102.1 L134.3 102.3 L135.1 102.6 L135.8 102.8 L136.6 103.1 L137.4 103.3 L138.1 103.6 L138.9 103.9 L139.7 104.1 L140.5 104.4 L141.2 104.7 L142.0 105.0 L142.8 105.2 L143.6 105.5 L144.4 105.8 L145.3 106.1 L146.1 106.4 L146.9 106.7 L147.7 107.0 L148.5 107.3 L149.4 107.5 L150.2 107.8 L151.1 108.1 L151.9 108.4 L152.8 108.7 L153.6 109.0 L154.5 109.3 L155.4 109.6 L156.2 109.8 L157.1 110.1 L158.0 110.4 L158.9 110.7 L159.8 111.0 L160.7 111.2 L161.6 111.5 L162.5 111.7 L163.4 112.0 L164.3 112.3 L165.2 112.5 L166.2 112.8 L167.1 113.0 L168.0 113.2 L169.0 113.5 L169.9 113.7 L170.9 113.9 L171.9 114.1 L172.8 114.3 L173.8 114.5 L174.8 114.7 L175.7 114.9 L176.7 115.1 L177.7 115.3 L178.7 115.4 L179.7 115.6 L180.7 115.7 L181.7 115.9 L182.8 116.0 L183.8 116.1 L184.8 116.2 L185.8 116.4 L186.9 116.4 L187.9 116.5 L189.0 116.6 L190.0 116.7 L191.1 116.7 L192.1 116.8 L193.2 116.8 L194.3 116.8 L195.4 116.8 L196.4 116.8 L197.5 116.8 L198.6 116.8 L199.7 116.7 L200.8 116.7 L201.9 116.6 L203.0 116.5 L204.1 116.5 L205.2 116.4 L206.4 116.2 L207.5 116.1 L208.6 116.0 L209.7 115.9 L210.9 115.7 L212.0 115.6 L213.2 115.4 L214.3 115.2 L215.5 115.1 L216.6 114.9 L217.8 114.7 L219.0 114.5 L220.1 114.2 L221.3 114.0 L222.5 113.8 L223.7 113.6 L224.9 113.3 L226.1 113.1 L227.3 112.8 L228.5 112.6 L229.7 112.3 L230.9 112.0 L232.2 111.7 L233.4 111.5 L234.6 111.2 L235.9 110.9 L237.1 110.6 L238.3 110.3 L239.6 110.0 L240.8 109.7 L242.1 109.4 L243.4 109.1 L244.6 108.7 L245.9 108.4 L247.2 108.1 L248.5 107.8 L249.8 107.4 L251.1 107.1 L252.4 106.8 L253.7 106.4 L255.0 106.1 L256.3 105.8 L257.6 105.4 L259.0 105.1 L260.3 104.8 L261.6 104.4 L263.0 104.1 L264.3 103.7 L265.7 103.4 L267.0 103.1 L268.4 102.7 L269.7 102.4 L271.1 102.1 L272.5 101.7 L273.9 101.4 L275.2 101.0 L276.6 100.7 L278.0 100.4 L279.4 100.0 L280.8 99.7 L282.3 99.4 L283.7 99.0 L285.1 98.7 L286.5 98.3 L287.9 98.0 L289.4 97.7 L290.8 97.3 L292.3 97.0 L293.7 96.7 L295.2 96.3 L296.6 96.0 L298.1 95.7 L299.6 95.3 L301.1 95.0 L302.5 94.7 L304.0 94.3 L305.5 94.0 L307.0 93.7 L308.5 93.3 L310.0 93.0 L311.5 92.7 L313.1 92.4 L314.6 92.0 L316.1 91.7 L317.6 91.4 L319.2 91.1 L320.7 90.7 L322.3 90.4 L323.8 90.1 L325.4 89.8 L326.9 89.5 L328.5 89.1 L330.1 88.8 L331.6 88.5 L333.2 88.2 L334.8 87.9 L336.4 87.6 L338.0 87.3 L339.6 87.0 L341.2 86.6 L342.8 86.3 L344.4 86.0 L346.1 85.7 L347.7 85.4 L349.3 85.1 L351.0 84.8 L352.6 84.5 L354.3 84.2 L355.9 83.9 L357.6 83.6 L359.2 83.3 L360.9 83.1 L362.6 82.8 L364.3 82.5 L365.9 82.2 L367.6 81.9 L369.3 81.6 L371.0 81.3 L372.7 81.1 L374.4 80.8 L376.1 80.5 L377.9 80.2 L379.6 80.0 L381.3 79.7 L383.0 79.4 L384.8 79.2 L386.5 78.9 L388.3 78.6 L390.0 78.4 L391.8 78.1 L393.6 77.9 L395.3 77.6 L397.1 77.4 L398.9 77.1 L400.7 76.9 L402.4 76.6 L404.2 76.4 L406.0 76.1 L407.8 75.9 L409.7 75.6 L411.5 75.4 L413.3 75.2 L415.1 74.9 L416.9 74.7 L418.8 74.5 L420.6 74.2 L422.5 74.0 L424.3 73.8 L426.2 73.5 L428.0 73.3 L429.9 73.1 L431.8 72.9 L433.6 72.6 L435.5 72.4 L437.4 72.2 L439.3 72.0 L441.2 71.8 L443.1 71.6 L445.0 71.3 L446.9 71.1 L448.8 70.9 L450.7 70.7 L452.7 70.5 L454.6 70.3 L456.5 70.1 L458.5 69.9 L460.4 69.7 L462.4 69.5 L464.3 69.3 L466.3 69.1 L468.2 68.9 L470.2 68.7 L472.2 68.5 L474.2 68.3 L476.1 68.1 L478.1 67.9 L480.1 67.7 L482.1 67.5 L484.1 67.3 L486.1 67.1 L488.2 66.9 L490.2 66.8 L492.2 66.6 L494.2 66.4 L496.3 66.2 L498.3 66.0 L500.4 65.9 L502.4 65.7 L504.5 65.5 L506.5 65.3 L508.6 65.2 L510.7 65.0 L512.7 64.8 L514.8 64.7 L516.9 64.5 L519.0 64.4 L521.1 64.2 L523.2 64.0 L525.3 63.9 L527.4 63.7 L529.5 63.6 L531.6 63.4 L533.8 63.3 L535.9 63.1 L538.0 63.0 L540.2 62.8 L542.3 62.7 L544.5 62.5 L546.6 62.4 L548.8 62.3 L551.0 62.1 L553.1 62.0 L555.3 61.9 L557.5 61.7 L559.7 61.6 L561.9 61.5 L564.1 61.3 L566.3 61.2 L568.5 61.1 L570.7 60.9 L572.9 60.8 L575.1 60.7 L577.3 60.6 L579.6 60.4 L581.8 60.3 L584.1 60.2 L586.3 60.1 L588.5 60.0 L590.8 59.8 L593.1 59.7 L595.3 59.6 L597.6 59.5 L599.9 59.4 L602.2 59.3 L604.5 59.1 L606.7 59.0 L609.0 58.9 L611.3 58.8 L613.6 58.7 L616.0 58.6 L618.3 58.5 L620.6 58.4 L622.9 58.3 L625.3 58.2 L627.6 58.1 L629.9 58.0 L632.3 57.9 L634.6 57.7 L637.0 57.6 L639.4 57.5 L641.7 57.4 L644.1 57.3 L646.5 57.2 L648.9 57.1 L651.2 57.0 L653.6 56.9 L656.0 56.8 L658.4 56.7 L660.8 56.6 L663.3 56.5 L665.7 56.4 L668.1 56.3 L670.5 56.2 L673.0 56.1 L675.4 56.0 L677.8 55.9 L680.3 55.8 L682.7 55.7 L685.2 55.7 L687.7 55.6 L690.1 55.5 L692.6 55.4 L695.1 55.3 L697.6 55.2 L700.0 55.1 L702.5 55.0 L705.0 54.9 L707.5 54.8 L710.0 54.7 L712.6 54.6 L715.1 54.5 L717.6 54.4 L720.1 54.3 L722.7 54.2 L725.2 54.1 L727.7 54.0 L730.3 53.9 L732.8 53.8 L735.4 53.7 L738.0 53.6 L740.5 53.5 L743.1 53.4 L745.7 53.3 L748.3 53.2 L750.8 53.1 L753.4 53.0 L756.0 52.9 L758.6 52.8 L761.2 52.6 L763.9 52.5 L766.5 52.4 L769.1 52.3 L771.7 52.2 L774.4 52.1 L777.0 52.0" stroke="#0000ff" stroke-dasharray="15.8 6.3" stroke-dashoffset="2.2"/>
<path d="M106.9 440.0 L106.9 439.8 L107.0 439.6 L107.0 439.3 L107.0 439.1 L107.1 438.9 L107.1 438.6 L107.2 438.4 L107.2 438.1 L107.3 437.9 L107.3 437.6 L107.4 437.4 L107.5 437.1 L107.5 436.8 L107.6 436.5 L107.7 436.2 L107.8 435.9 L107.8 435.6 L107.9 435.3 L108.0 435.0 L108.1 434.7 L108.2 434.4 L108.3 434.1 L108.4 433.7 L108.5 433.4 L108.6 433.1 L108.7 432.7 L108.8 432.4 L108.9 432.0 L109.0 431.6 L109.1 431.3 L109.2 430.9 L109.3 430.5 L109.5 430.1 L109.6 429.7 L109.7 429.3 L109.8 428.9 L110.0 428.5 L110.1 428.1 L110.3 427.7 L110.4 427.3 L110.5 426.9 L110.7 426.4 L110.8 426.0 L111.0 425.5 L111.1 425.1 L111.3 424.6 L111.4 424.2 L111.6 423.7 L111.8 423.2 L111.9 422.8 L112.1 422.3 L112.3 421.8 L112.4 421.3 L112.6 420.8 L112.8 420.3 L113.0 419.8 L113.1 419.3 L113.3 418.8 L113.5 418.2 L113.7 417.7 L113.9 417.2 L114.1 416.6 L114.3 416.1 L114.5 415.5 L114.7 415.0 L114.9 414.4 L115.1 413.9 L115.3 413.3 L115.5 412.7 L115.7 412.1 L115.9 411.5 L116.1 410.9 L116.3 410.3 L116.5 409.7 L116.7 409.1 L117.0 408.5 L117.2 407.9 L117.4 407.3 L117.6 406.6 L117.9 406.0 L118.1 405.4 L118.3 404.7 L118.6 404.1 L118.8 403.4 L119.0 402.8 L119.3 402.1 L119.5 401.4 L119.7 400.7 L120.0 400.1 L120.2 399.4 L120.5 398.7 L120.7 398.0 L121.0 397.3 L121.2 396.6 L121.5 395.9 L121.7 395.1 L122.0 394.4 L122.2 393.7 L122.5 393.0 L122.8 392.2 L123.0 391.5 L123.3 390.7 L123.5 390.0 L123.8 389.2 L124.1 388.4 L124.4 387.7 L124.6 386.9 L124.9 386.1 L125.2 385.3 L125.4 384.5 L125.7 383.7 L126.0 382.9 L126.3 382.1 L126.6 381.3 L126.8 380.5 L127.1 379.7 L127.4 378.8 L127.7 378.0 L128.0 377.2 L128.3 376.3 L128.6 375.5 L128.9 374.6 L129.2 373.8 L129.5 372.9 L129.8 372.0 L130.1 371.1 L130.4 370.3 L130.7 369.4 L131.1 368.5 L131.4 367.6 L131.7 366.7 L132.0 365.8 L132.4 364.9 L132.7 364.0 L133.0 363.0 L133.4 362.1 L133.7 361.2 L134.0 360.2 L134.4 359.3 L134.7 358.3 L135.1 357.4 L135.4 356.4 L135.8 355.5 L136.2 354.5 L136.5 353.5 L136.9 352.6 L137.3 351.6 L137.7 350.6 L138.1 349.6 L138.4 348.6 L138.8 347.6 L139.2 346.6 L139.6 345.6 L140.0 344.5 L140.5 343.5 L140.9 342.5 L141.3 341.5 L141.7 340.4 L142.1 339.4 L142.6 338.3 L143.0 337.3 L143.4 336.2 L143.9 335.1 L144.3 334.1 L144.8 333.0 L145.3 331.9 L145.7 330.8 L146.2 329.7 L146.7 328.6 L147.2 327.5 L147.6 326.4 L148.1 325.3 L148.6 324.2 L149.1 323.1 L149.7 322.0 L150.2 320.8 L150.7 319.7 L151.2 318.5 L151.7 317.4 L152.3 316.3 L152.8 315.1 L153.4 313.9 L153.9 312.8 L154.5 311.6 L155.1 310.4 L155.6 309.3 L156.2 308.1 L156.8 306.9 L157.4 305.7 L158.0 304.6 L158.6 303.4 L159.2 302.2 L159.9 301.0 L160.5 299.8 L161.1 298.6 L161.8 297.4 L162.4 296.2 L163.1 295.0 L163.8 293.8 L164.4 292.6 L165.1 291.3 L165.8 290.1 L166.5 288.9 L167.2 287.7 L167.9 286.5 L168.6 285.3 L169.4 284.0 L170.1 282.8 L170.9 281.6 L171.6 280.4 L172.4 279.1 L173.1 277.9 L173.9 276.7 L174.7 275.5 L175.5 274.2 L176.3 273.0 L177.1 271.8 L177.9 270.6 L178.8 269.3 L179.6 268.1 L180.5 266.9 L181.3 265.7 L182.2 264.5 L183.1 263.2 L184.0 262.0 L184.9 260.8 L185.8 259.6 L186.7 258.4 L187.6 257.1 L188.6 255.9 L189.5 254.7 L190.5 253.5 L191.4 252.3 L192.4 251.1 L193.4 249.9 L194.4 248.7 L195.4 247.5 L196.4 246.3 L197.4 245.1 L198.5 243.9 L199.5 242.7 L200.6 241.5 L201.7 240.3 L202.7 239.2 L203.8 238.0 L204.9 236.8 L206.1 235.6 L207.2 234.5 L208.3 233.3 L209.5 232.1 L210.6 231.0 L211.8 229.8 L213.0 228.7 L214.2 227.5 L215.4 226.4 L216.6 225.3 L217.8 224.2 L219.1 223.0 L220.3 221.9 L221.6 220.8 L222.9 219.7 L224.2 218.6 L225.5 217.5 L226.8 216.4 L228.1 215.3 L229.5 214.2 L230.8 213.2 L232.2 212.1 L233.6 211.0 L235.0 210.0 L236.4 208.9 L237.8 207.9 L239.2 206.8 L240.7 205.8 L242.1 204.8 L243.6 203.8 L245.1 202.7 L246.6 201.7 L248.1 200.8 L249.6 199.8 L251.2 198.8 L252.7 197.8 L254.3 196.8 L255.9 195.9 L257.4 194.9 L259.0 194.0 L260.7 193.0 L262.3 192.1 L263.9 191.2 L265.6 190.3 L267.2 189.4 L268.9 188.5 L270.6 187.6 L272.2 186.7 L273.9 185.8 L275.7 184.9 L277.4 184.1 L279.1 183.2 L280.9 182.4 L282.6 181.5 L284.4 180.7 L286.2 179.9 L287.9 179.1 L289.7 178.3 L291.5 177.5 L293.4 176.7 L295.2 175.9 L297.0 175.1 L298.9 174.4 L300.7 173.6 L302.6 172.9 L304.4 172.1 L306.3 171.4 L308.2 170.7 L310.1 170.0 L312.0 169.3 L313.9 168.6 L315.9 167.9 L317.8 167.2 L319.7 166.5 L321.7 165.9 L323.7 165.2 L325.6 164.6 L327.6 163.9 L329.6 163.3 L331.6 162.7 L333.6 162.1 L335.6 161.4 L337.6 160.8 L339.7 160.2 L341.7 159.7 L343.8 159.1 L345.8 158.5 L347.9 157.9 L349.9 157.4 L352.0 156.8 L354.1 156.3 L356.2 155.8 L358.3 155.2 L360.4 154.7 L362.5 154.2 L364.7 153.7 L366.8 153.2 L369.0 152.7 L371.1 152.2 L373.3 151.7 L375.4 151.2 L377.6 150.7 L379.8 150.3 L382.0 149.8 L384.2 149.4 L386.4 148.9 L388.6 148.5 L390.8 148.0 L393.0 147.6 L395.3 147.2 L397.5 146.8 L399.7 146.4 L402.0 145.9 L404.3 145.5 L406.5 145.1 L408.8 144.8 L411.1 144.4 L413.4 144.0 L415.7 143.6 L418.0 143.2 L420.3 142.9 L422.6 142.5 L424.9 142.2 L427.2 141.8 L429.6 141.5 L431.9 141.1 L434.2 140.8 L436.6 140.4 L439.0 140.1 L441.3 139.8 L443.7 139.5 L446.1 139.2 L448.5 138.9 L450.9 138.5 L453.2 138.2 L455.6 137.9 L458.1 137.6 L460.5 137.4 L462.9 137.1 L465.3 136.8 L467.7 136.5 L470.2 136.2 L472.6 136.0 L475.1 135.7 L477.5 135.4 L480.0 135.2 L482.5 134.9 L484.9 134.7 L487.4 134.4 L489.9 134.2 L492.4 133.9 L494.9 133.7 L497.4 133.4 L499.9 133.2 L502.4 133.0 L504.9 132.7 L507.4 132.5 L509.9 132.3 L512.5 132.1 L515.0 131.9 L517.6 131.6 L520.1 131.4 L522.7 131.2 L525.2 131.0 L527.8 130.8 L530.4 130.6 L533.0 130.4 L535.6 130.2 L538.1 130.0 L540.7 129.8 L543.3 129.6 L546.0 129.5 L548.6 129.3 L551.2 129.1 L553.8 128.9 L556.5 128.7 L559.1 128.6 L561.7 128.4 L564.4 128.2 L567.0 128.1 L569.7 127.9 L572.4 127.7 L575.1 127.6 L577.7 127.4 L580.4 127.2 L583.1 127.1 L585.8 126.9 L588.5 126.8 L591.2 126.6 L593.9 126.5 L596.7 126.3 L599.4 126.2 L602.1 126.0 L604.9 125.9 L607.6 125.7 L610.4 125.6 L613.1 125.4 L615.9 125.3 L618.6 125.2 L621.4 125.0 L624.2 124.9 L627.0 124.7 L629.8 124.6 L632.6 124.5 L635.4 124.3 L638.2 124.2 L641.0 124.1 L643.8 123.9 L646.7 123.8 L649.5 123.7 L652.3 123.5 L655.2 123.4 L658.0 123.3 L660.9 123.2 L663.7 123.0 L666.6 122.9 L669.5 122.8 L672.4 122.6 L675.3 122.5 L678.2 122.4 L681.0 122.3 L684.0 122.1 L686.9 122.0 L689.8 121.9 L692.7 121.8 L695.6 121.6 L698.6 121.5 L701.5 121.4 L704.5 121.3 L707.4 121.1 L710.4 121.0 L713.3 120.9 L716.3 120.7 L719.3 120.6 L722.3 120.5 L725.3 120.3 L728.3 120.2 L731.3 120.1 L734.3 120.0 L737.3 119.8 L740.3 119.7 L743.3 119.6 L746.4 119.4 L749.4 119.3 L752.4 119.1 L755.5 119.0 L758.5 118.9 L761.6 118.7 L764.7 118.6 L767.7 118.4 L770.8 118.3 L773.9 118.1 L777.0 118.0" stroke="#000000" stroke-dasharray="15.8 6.3 7.6 6.3" stroke-dashoffset="21.8"/>
</g>
<path d="M132.37 441.35V436.65M132.37 27.50V32.20M159.15 441.35V436.65M159.15 27.50V32.20M185.92 441.35V436.65M185.92 27.50V32.20M212.70 441.35V436.65M212.70 27.50V32.20M266.24 441.35V436.65M266.24 27.50V32.20M293.02 441.35V436.65M293.02 27.50V32.20M319.79 441.35V436.65M319.79 27.50V32.20M346.57 441.35V436.65M346.57 27.50V32.20M400.11 441.35V436.65M400.11 27.50V32.20M426.89 441.35V436.65M426.89 27.50V32.20M453.66 441.35V436.65M453.66 27.50V32.20M480.44 441.35V436.65M480.44 27.50V32.20M533.98 441.35V436.65M533.98 27.50V32.20M560.76 441.35V436.65M560.76 27.50V32.20M587.53 441.35V436.65M587.53 27.50V32.20M614.31 441.35V436.65M614.31 27.50V32.20M667.85 441.35V436.65M667.85 27.50V32.20M694.63 441.35V436.65M694.63 27.50V32.20M721.40 441.35V436.65M721.40 27.50V32.20M748.18 441.35V436.65M748.18 27.50V32.20M105.60 427.56H110.30M774.95 427.56H770.25M105.60 413.76H110.30M774.95 413.76H770.25M105.60 399.97H110.30M774.95 399.97H770.25M105.60 386.17H110.30M774.95 386.17H770.25M105.60 358.58H110.30M774.95 358.58H770.25M105.60 344.78H110.30M774.95 344.78H770.25M105.60 330.99H110.30M774.95 330.99H770.25M105.60 317.19H110.30M774.95 317.19H770.25M105.60 289.61H110.30M774.95 289.61H770.25M105.60 275.81H110.30M774.95 275.81H770.25M105.60 262.01H110.30M774.95 262.01H770.25M105.60 248.22H110.30M774.95 248.22H770.25M105.60 220.63H110.30M774.95 220.63H770.25M105.60 206.83H110.30M774.95 206.83H770.25M105.60 193.04H110.30M774.95 193.04H770.25M105.60 179.25H110.30M774.95 179.25H770.25M105.60 151.65H110.30M774.95 151.65H770.25M105.60 137.86H110.30M774.95 137.86H770.25M105.60 124.06H110.30M774.95 124.06H770.25M105.60 110.27H110.30M774.95 110.27H770.25M105.60 82.68H110.30M774.95 82.68H770.25M105.60 68.88H110.30M774.95 68.88H770.25M105.60 55.09H110.30M774.95 55.09H770.25M105.60 41.29H110.30M774.95 41.29H770.25" stroke="#3a3a3a" stroke-width="0.7" fill="none"/>
<path d="M105.60 441.35V434.25M105.60 27.50V34.60M239.47 441.35V434.25M239.47 27.50V34.60M373.34 441.35V434.25M373.34 27.50V34.60M507.21 441.35V434.25M507.21 27.50V34.60M641.08 441.35V434.25M641.08 27.50V34.60M774.95 441.35V434.25M774.95 27.50V34.60M105.60 441.35H112.70M774.95 441.35H767.85M105.60 372.38H112.70M774.95 372.38H767.85M105.60 303.40H112.70M774.95 303.40H767.85M105.60 234.42H112.70M774.95 234.42H767.85M105.60 165.45H112.70M774.95 165.45H767.85M105.60 96.47H112.70M774.95 96.47H767.85M105.60 27.50H112.70M774.95 27.50H767.85" stroke="#262626" stroke-width="0.8" fill="none"/>
<rect x="105.6" y="27.5" width="669.35" height="413.85" fill="none" stroke="#2e2e2e" stroke-width="1.0"/>
<g font-family="'Liberation Serif', serif" font-size="29.2" fill="#000" style="filter:grayscale(1)">
<text x="62.0" y="453.05" textLength="35.6" lengthAdjust="spacingAndGlyphs">0.0</text>
<text x="62.0" y="384.07" textLength="35.6" lengthAdjust="spacingAndGlyphs">0.1</text>
<text x="62.0" y="315.10" textLength="35.6" lengthAdjust="spacingAndGlyphs">0.2</text>
<text x="62.0" y="246.12" textLength="35.6" lengthAdjust="spacingAndGlyphs">0.3</text>
<text x="62.0" y="177.15" textLength="35.6" lengthAdjust="spacingAndGlyphs">0.4</text>
<text x="62.0" y="108.17" textLength="35.6" lengthAdjust="spacingAndGlyphs">0.5</text>
<text x="62.0" y="39.20" textLength="35.6" lengthAdjust="spacingAndGlyphs">0.6</text>
<text x="98.60" y="481" textLength="14" lengthAdjust="spacingAndGlyphs">0</text>
<text x="232.47" y="481" textLength="14" lengthAdjust="spacingAndGlyphs">1</text>
<text x="366.34" y="481" textLength="14" lengthAdjust="spacingAndGlyphs">2</text>
<text x="500.21" y="481" textLength="14" lengthAdjust="spacingAndGlyphs">3</text>
<text x="634.08" y="481" textLength="14" lengthAdjust="spacingAndGlyphs">4</text>
<text x="767.95" y="481" textLength="14" lengthAdjust="spacingAndGlyphs">5</text>
</g>
<g font-family="'Liberation Serif', serif" font-style="italic" font-size="33" fill="#000" style="filter:grayscale(1)">
<text x="399.3" y="535.7" font-size="29.5" textLength="15" lengthAdjust="spacingAndGlyphs">r</text><line x1="418.0" y1="543.7" x2="429.2" y2="511.6" stroke="#000" stroke-width="1.5"/><text x="433.3" y="535.7" textLength="19" lengthAdjust="spacingAndGlyphs">L</text><text x="453.6" y="522.4000000000001" font-style="normal" font-size="22.5">2</text><text x="466.8" y="535.7" textLength="13.6" lengthAdjust="spacingAndGlyphs">b</text>
<g transform="translate(30.8 277.5) rotate(-90)"><text x="-1" y="0" textLength="23" lengthAdjust="spacingAndGlyphs">R</text><line x1="25.9" y1="7.6" x2="37.9" y2="-25.0" stroke="#000" stroke-width="1.5"/><text x="41.0" y="0" textLength="19" lengthAdjust="spacingAndGlyphs">L</text><text x="61.6" y="-13.3" font-style="normal" font-size="22.5">2</text><text x="74.5" y="0" textLength="13.6" lengthAdjust="spacingAndGlyphs">b</text></g>
</g>
</svg>
</body></html>
